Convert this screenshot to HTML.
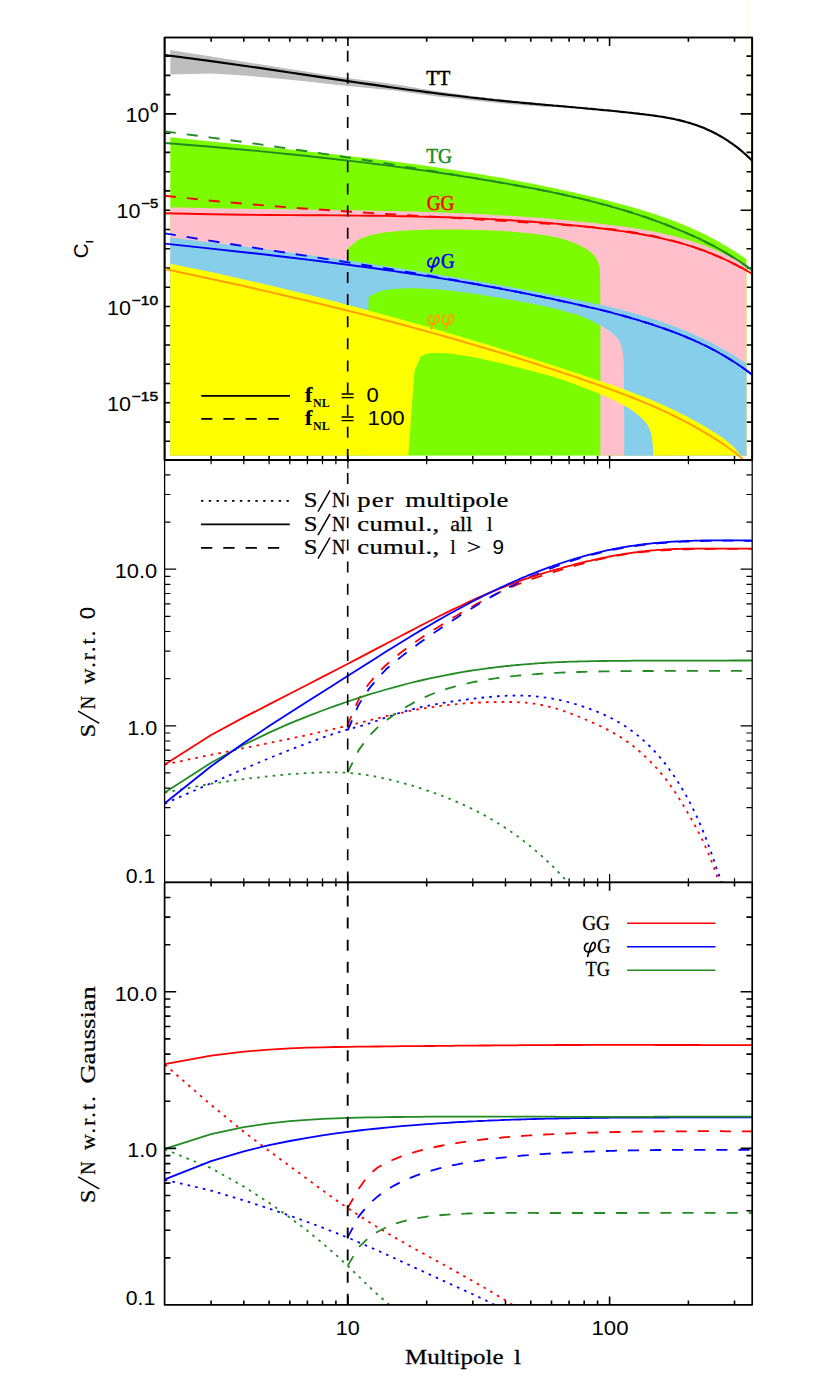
<!DOCTYPE html>
<html><head><meta charset="utf-8"><title>chart</title><style>html,body{margin:0;padding:0;background:#fff}svg text{font-family:"Liberation Serif",serif}svg text.s{font-family:"Liberation Sans",sans-serif}</style></head><body>
<svg width="830" height="1383" viewBox="0 0 830 1383" style="display:block">
<rect width="830" height="1383" fill="#fff"/>
<defs><clipPath id="c1"><rect x="170.3" y="37.5" width="576.1" height="418.3"/></clipPath>
<clipPath id="p1"><rect x="164.6" y="37.5" width="587.6" height="422.5"/></clipPath>
<clipPath id="p2"><rect x="164.6" y="460" width="587.6" height="422.4"/></clipPath>
<clipPath id="p3"><rect x="164.6" y="882.4" width="587.6" height="422.4"/></clipPath>
</defs>
<path d="M211.1 37.5V41.7M243.8 37.5V41.7M269.1 37.5V41.7M289.8 37.5V41.7M307.4 37.5V41.7M322.5 37.5V41.7M335.9 37.5V41.7M426.7 37.5V41.7M472.8 37.5V41.7M505.5 37.5V41.7M530.8 37.5V41.7M551.5 37.5V41.7M569.1 37.5V41.7M584.2 37.5V41.7M597.6 37.5V41.7M688.4 37.5V41.7M734.5 37.5V41.7M347.9 37.5V45.9M609.6 37.5V45.9M211.1 460V455.8M243.8 460V455.8M269.1 460V455.8M289.8 460V455.8M307.4 460V455.8M322.5 460V455.8M335.9 460V455.8M426.7 460V455.8M472.8 460V455.8M505.5 460V455.8M530.8 460V455.8M551.5 460V455.8M569.1 460V455.8M584.2 460V455.8M597.6 460V455.8M688.4 460V455.8M734.5 460V455.8M347.9 460V451.6M609.6 460V451.6M164.6 56.1H170.4M752.2 56.1H746.4M164.6 75.4H170.4M752.2 75.4H746.4M164.6 94.6H170.4M752.2 94.6H746.4M164.6 113.9H176.2M752.2 113.9H740.6M164.6 133.2H170.4M752.2 133.2H746.4M164.6 152.4H170.4M752.2 152.4H746.4M164.6 171.7H170.4M752.2 171.7H746.4M164.6 190.9H170.4M752.2 190.9H746.4M164.6 210.2H176.2M752.2 210.2H740.6M164.6 229.5H170.4M752.2 229.5H746.4M164.6 248.7H170.4M752.2 248.7H746.4M164.6 268H170.4M752.2 268H746.4M164.6 287.2H170.4M752.2 287.2H746.4M164.6 306.5H176.2M752.2 306.5H740.6M164.6 325.8H170.4M752.2 325.8H746.4M164.6 345H170.4M752.2 345H746.4M164.6 364.3H170.4M752.2 364.3H746.4M164.6 383.5H170.4M752.2 383.5H746.4M164.6 402.8H176.2M752.2 402.8H740.6M164.6 422.1H170.4M752.2 422.1H746.4M164.6 441.3H170.4M752.2 441.3H746.4" stroke="#000" stroke-width="1.6" fill="none"/>
<path d="M164.6 37.5H752.2V460H164.6Z" stroke="#000" stroke-width="1.7" fill="none" stroke-linejoin="round"/>
<g clip-path="url(#c1)">
<path d="M169.3 137.2L211.1 141.5L243.8 144.8L269.1 147.4L289.8 149.5L307.4 151.4L322.5 153L335.9 154.5L347.9 155.9L358.7 157.2L368.6 158.3L377.7 159.5L386.1 160.5L394 161.5L401.3 162.5L408.2 163.4L414.7 164.3L420.8 165.1L426.7 166L432.2 166.8L437.5 167.5L442.6 168.3L447.4 169L452 169.7L456.5 170.4L460.8 171.1L464.9 171.7L468.9 172.4L472.8 173L476.5 173.6L480.1 174.2L483.6 174.8L487 175.4L490.3 175.9L493.5 176.5L496.6 177L499.6 177.6L502.6 178.1L505.5 178.6L507.5 179L509.5 179.4L511.5 179.7L513.5 180.1L515.5 180.5L517.6 180.9L519.6 181.3L521.6 181.7L523.6 182L525.6 182.4L527.6 182.8L529.7 183.2L531.7 183.6L533.7 184L535.7 184.4L537.7 184.8L539.7 185.2L541.8 185.6L543.8 186.1L545.8 186.5L547.8 186.9L549.8 187.3L551.8 187.7L553.8 188.2L555.9 188.6L557.9 189L559.9 189.5L561.9 189.9L563.9 190.3L565.9 190.8L568 191.2L570 191.7L572 192.1L574 192.6L576 193.1L578 193.5L580.1 194L582.1 194.5L584.1 194.9L586.1 195.4L588.1 195.9L590.1 196.4L592.2 196.8L594.2 197.3L596.2 197.8L598.2 198.3L600.2 198.8L602.2 199.3L604.3 199.8L606.3 200.3L608.3 200.8L610.3 201.3L612.3 201.9L614.3 202.4L616.3 202.9L618.4 203.4L620.4 204L622.4 204.5L624.4 205.1L626.4 205.6L628.4 206.2L630.5 206.7L632.5 207.3L634.5 207.9L636.5 208.5L638.5 209.1L640.5 209.7L642.6 210.3L644.6 210.9L646.6 211.5L648.6 212.2L650.6 212.8L652.6 213.5L654.7 214.1L656.7 214.8L658.7 215.5L660.7 216.2L662.7 216.9L664.7 217.6L666.8 218.3L668.8 219.1L670.8 219.8L672.8 220.6L674.8 221.3L676.8 222.1L678.9 222.9L680.9 223.7L682.9 224.6L684.9 225.4L686.9 226.3L688.9 227.1L690.9 228L693 228.9L695 229.8L697 230.7L699 231.7L701 232.6L703 233.6L705.1 234.6L707.1 235.6L709.1 236.6L711.1 237.7L713.1 238.8L715.1 239.8L717.2 240.9L719.2 242.1L721.2 243.2L723.2 244.4L725.2 245.5L727.2 246.7L729.3 248L731.3 249.2L733.3 250.5L735.3 251.8L737.3 253.1L739.3 254.4L741.4 255.7L743.4 257.1L745.4 258.5L747.4 259.9L747.4 455.8L169.3 455.8Z" fill="#7CFC00"/>
<path d="M169.3 207.3L211.1 208.2L243.8 208.8L269.1 209.1L289.8 209.3L307.4 209.6L322.5 209.8L335.9 209.9L347.9 210.1L358.7 210.3L368.6 210.5L377.7 210.7L386.1 210.9L394 211L401.3 211.2L408.2 211.4L414.7 211.6L420.8 211.8L426.7 212L432.2 212.1L437.5 212.3L442.6 212.5L447.4 212.7L452 212.9L456.5 213.1L460.8 213.2L464.9 213.4L468.9 213.6L472.8 213.8L476.5 214L480.1 214.1L483.6 214.3L487 214.5L490.3 214.7L493.5 214.9L496.6 215L499.6 215.2L502.6 215.4L505.5 215.6L507.5 215.7L509.5 215.8L511.5 215.9L513.5 216.1L515.5 216.2L517.6 216.3L519.6 216.5L521.6 216.6L523.6 216.8L525.6 216.9L527.6 217L529.7 217.2L531.7 217.3L533.7 217.5L535.7 217.6L537.7 217.8L539.7 218L541.8 218.1L543.8 218.3L545.8 218.4L547.8 218.6L549.8 218.8L551.8 218.9L553.8 219.1L555.9 219.3L557.9 219.5L559.9 219.6L561.9 219.8L563.9 220L565.9 220.2L568 220.4L570 220.6L572 220.8L574 221L576 221.2L578 221.4L580.1 221.6L582.1 221.8L584.1 222L586.1 222.2L588.1 222.4L590.1 222.6L592.2 222.8L594.2 223.1L596.2 223.3L598.2 223.5L600.2 223.7L602.2 224L604.3 224.2L606.3 224.4L608.3 224.7L610.3 224.9L612.3 225.2L614.3 225.4L616.3 225.7L618.4 225.9L620.4 226.2L622.4 226.5L624.4 226.7L626.4 227L628.4 227.3L630.5 227.6L632.5 227.9L634.5 228.2L636.5 228.5L638.5 228.8L640.5 229.2L642.6 229.5L644.6 229.9L646.6 230.2L648.6 230.6L650.6 231L652.6 231.3L654.7 231.7L656.7 232.2L658.7 232.6L660.7 233L662.7 233.4L664.7 233.9L666.8 234.4L668.8 234.8L670.8 235.3L672.8 235.8L674.8 236.3L676.8 236.9L678.9 237.4L680.9 238L682.9 238.5L684.9 239.1L686.9 239.7L688.9 240.3L690.9 241L693 241.6L695 242.3L697 242.9L699 243.6L701 244.4L703 245.1L705.1 245.8L707.1 246.6L709.1 247.4L711.1 248.2L713.1 249L715.1 249.9L717.2 250.7L719.2 251.6L721.2 252.5L723.2 253.4L725.2 254.4L727.2 255.3L729.3 256.3L731.3 257.3L733.3 258.4L735.3 259.4L737.3 260.5L739.3 261.6L741.4 262.7L743.4 263.9L745.4 265L747.4 266.2L747.4 455.8L600.4 455.8L600.4 330L600.4 324.7L600.4 317.2L600.3 308.4L600.3 299.3L600.2 291.2L600.2 285L600.2 280.8L600.1 277.9L600.1 275.8L600 274.2L599.9 272.8L599.8 271.3L599.7 269.8L599.6 268.5L599.5 267.5L599.3 266.5L599.1 265.5L598.8 264.5L598.4 263.4L598 262.2L597.6 261.1L597.1 259.9L596.5 258.8L595.9 257.8L595.2 256.8L594.5 255.9L593.8 255.1L593 254.2L592.1 253.4L591.1 252.5L590 251.6L588.8 250.7L587.6 249.8L586.2 248.9L584.8 248L583.4 247.2L582 246.4L580.5 245.7L579 245L577.4 244.3L575.6 243.5L573.7 242.8L571.6 242L569.4 241.2L567.1 240.3L564.6 239.5L562 238.7L559.3 238L556.4 237.3L553.3 236.7L550 236.1L546.7 235.6L543.3 235.1L540 234.6L536.8 234.2L533.6 233.8L530.5 233.4L527.2 233.1L523.7 232.7L520 232.4L516.1 232L512.2 231.7L508 231.3L503.6 231L498.6 230.7L493 230.4L486.4 230.2L478.7 229.9L470.5 229.8L462.4 229.6L454.9 229.5L448.4 229.4L443.1 229.4L438.7 229.4L434.8 229.5L431.3 229.6L427.7 229.7L424 229.8L419.9 229.9L415.5 230.1L411.1 230.3L407.1 230.5L403.7 230.7L401.3 230.8L394 231.4L386.1 232.3L377.7 233.5L368.6 235.7L358.7 239.5L347.9 248.3L347.3 300L346.8 455.8L169.3 455.8Z" fill="#FFC0CB"/>
<path d="M169.3 237.4L211.1 242.4L243.8 246.5L269.1 249.7L289.8 252.5L307.4 254.8L322.5 256.9L335.9 258.8L347.9 260.5L358.7 262.1L368.6 263.6L377.7 264.9L386.1 266.2L394 267.4L401.3 268.5L408.2 269.6L414.7 270.6L420.8 271.6L426.7 272.6L432.2 273.5L437.5 274.3L442.6 275.2L447.4 276L452 276.8L456.5 277.5L460.8 278.2L464.9 278.9L468.9 279.6L472.8 280.3L476.5 280.9L480.1 281.6L483.6 282.2L487 282.8L490.3 283.4L493.5 283.9L496.6 284.5L499.6 285L502.6 285.6L505.5 286.1L507.5 286.5L509.5 286.8L511.5 287.2L513.5 287.6L515.5 288L517.6 288.3L519.6 288.7L521.6 289.1L523.6 289.5L525.6 289.8L527.6 290.2L529.7 290.6L531.7 291L533.7 291.4L535.7 291.8L537.7 292.1L539.7 292.5L541.8 292.9L543.8 293.3L545.8 293.7L547.8 294.1L549.8 294.5L551.8 294.9L553.8 295.3L555.9 295.7L557.9 296.1L559.9 296.5L561.9 296.9L563.9 297.3L565.9 297.7L568 298.1L570 298.5L572 298.9L574 299.3L576 299.7L578 300.1L580.1 300.5L582.1 300.9L584.1 301.4L586.1 301.8L588.1 302.2L590.1 302.6L592.2 303.1L594.2 303.5L596.2 304L598.2 304.4L600.2 304.8L602.2 305.3L604.3 305.8L606.3 306.2L608.3 306.7L610.3 307.2L612.3 307.6L614.3 308.1L616.3 308.6L618.4 309.1L620.4 309.6L622.4 310.1L624.4 310.7L626.4 311.2L628.4 311.7L630.5 312.3L632.5 312.8L634.5 313.4L636.5 313.9L638.5 314.5L640.5 315.1L642.6 315.7L644.6 316.3L646.6 316.9L648.6 317.5L650.6 318.1L652.6 318.8L654.7 319.4L656.7 320.1L658.7 320.8L660.7 321.5L662.7 322.1L664.7 322.9L666.8 323.6L668.8 324.3L670.8 325L672.8 325.8L674.8 326.6L676.8 327.3L678.9 328.1L680.9 328.9L682.9 329.7L684.9 330.6L686.9 331.4L688.9 332.3L690.9 333.1L693 334L695 334.9L697 335.9L699 336.8L701 337.7L703 338.7L705.1 339.7L707.1 340.7L709.1 341.7L711.1 342.7L713.1 343.7L715.1 344.8L717.2 345.9L719.2 347L721.2 348.1L723.2 349.2L725.2 350.4L727.2 351.5L729.3 352.7L731.3 353.9L733.3 355.1L735.3 356.4L737.3 357.6L739.3 358.9L741.4 360.2L743.4 361.5L745.4 362.9L747.4 364.2L747.4 455.8L624.2 455.8L624.1 400L624.1 396.5L624.1 391.4L624 385.5L624 379.5L623.9 374L623.9 369.9L623.9 367.2L623.8 365.4L623.8 364.2L623.8 363.3L623.7 362.3L623.6 361L623.5 359.4L623.3 357.7L623.2 355.9L623 354.2L622.7 352.5L622.4 350.8L622 349.1L621.6 347.5L621.1 345.8L620.6 344.2L620.1 342.7L619.5 341.4L618.9 340.2L618.3 339.2L617.6 338.3L616.9 337.5L616.1 336.6L615.2 335.7L614.2 334.7L613 333.7L611.8 332.7L610.5 331.8L609.2 330.8L607.9 329.9L606.7 329.1L605.6 328.4L604.5 327.6L603.3 326.9L601.8 326.1L600 325.1L597.7 323.9L595 322.5L592.1 321L589.1 319.5L586.1 318.1L583.4 316.9L581 316L578.9 315.3L576.9 314.6L574.7 314L572.1 313.4L568.9 312.5L565.1 311.5L560.8 310.3L556.2 309.1L551.2 307.8L545.8 306.6L540 305.3L533.6 304L526.4 302.6L518.8 301.3L511.3 299.9L504.2 298.7L497.8 297.6L492.4 296.7L487.5 295.9L483.1 295.1L478.9 294.5L474.6 293.8L470 293.2L465.1 292.5L460.1 291.9L455 291.2L449.9 290.6L444.9 290.1L440 289.6L434.9 289.2L429.6 288.9L424.3 288.7L419.4 288.5L415.3 288.3L412.3 288.2L401.3 288.4L394 288.9L386.1 289.9L377.7 292L368.6 297.1L367.9 330L367.3 455.8L169.3 455.8Z" fill="#87CEEB"/>
<path d="M169.3 263.5L211.1 272.1L243.8 279.4L269.1 285.2L289.8 290.2L307.4 294.5L322.5 298.3L335.9 301.8L347.9 304.9L358.7 307.8L368.6 310.4L377.7 312.9L386.1 315.2L394 317.4L401.3 319.4L408.2 321.4L414.7 323.2L420.8 325L426.7 326.6L432.2 328.2L437.5 329.8L442.6 331.2L447.4 332.7L452 334L456.5 335.4L460.8 336.6L464.9 337.9L468.9 339.1L472.8 340.2L476.5 341.4L480.1 342.5L483.6 343.5L487 344.6L490.3 345.6L493.5 346.6L496.6 347.5L499.6 348.5L502.6 349.4L505.5 350.3L507.5 350.9L509.5 351.5L511.5 352.1L513.5 352.8L515.5 353.4L517.5 354L519.5 354.7L521.5 355.3L523.6 356L525.6 356.6L527.6 357.2L529.6 357.9L531.6 358.5L533.6 359.1L535.6 359.8L537.6 360.4L539.6 361.1L541.7 361.7L543.7 362.4L545.7 363L547.7 363.7L549.7 364.3L551.7 365L553.7 365.6L555.7 366.3L557.7 366.9L559.7 367.6L561.8 368.3L563.8 368.9L565.8 369.6L567.8 370.2L569.8 370.9L571.8 371.6L573.8 372.2L575.8 372.9L577.8 373.6L579.9 374.2L581.9 374.9L583.9 375.6L585.9 376.2L587.9 376.9L589.9 377.6L591.9 378.2L593.9 378.9L595.9 379.6L597.9 380.3L600 381L602 381.6L604 382.3L606 383L608 383.7L610 384.4L612 385.1L614 385.8L616 386.5L618.1 387.2L620.1 387.9L622.1 388.7L624.1 389.4L626.1 390.1L628.1 390.9L630.1 391.6L632.1 392.4L634.1 393.1L636.1 393.9L638.2 394.7L640.2 395.5L642.2 396.2L644.2 397L646.2 397.9L648.2 398.7L650.2 399.5L652.2 400.3L654.2 401.2L656.3 402L658.3 402.9L660.3 403.8L662.3 404.7L664.3 405.6L666.3 406.5L668.3 407.4L670.3 408.3L672.3 409.3L674.4 410.2L676.4 411.2L678.4 412.2L680.4 413.2L682.4 414.2L684.4 415.2L686.4 416.3L688.4 417.3L690.4 418.4L692.4 419.5L694.5 420.6L696.5 421.7L698.5 422.8L700.5 424L702.5 425.2L704.5 426.3L706.5 427.5L708.5 428.8L710.5 430L712.6 431.3L714.6 432.5L716.6 433.8L718.6 435.1L720.6 436.5L722.6 437.8L724.6 439.3L726.6 440.8L728.6 442.4L730.6 444.2L732.7 446.1L734.7 448.1L736.7 450.4L738.7 452.9L740.7 455.6L653.3 455.8L653.2 454.3L653.1 452.2L653 449.7L652.9 447L652.7 444.5L652.5 442.3L652.3 440.4L652.1 438.6L651.8 436.9L651.5 435.3L651.2 433.8L650.7 432.2L650.2 430.7L649.6 429.2L649 427.8L648.3 426.3L647.4 424.9L646.4 423.5L645.3 422.1L644 420.6L642.6 419.2L641.1 417.8L639.5 416.3L637.7 414.8L635.8 413.3L633.9 411.8L631.8 410.3L629.5 408.7L626.9 407.1L624 405.4L620.8 403.7L617.4 401.9L613.6 400.1L609.6 398.2L605 396.2L600 394.1L594.2 391.7L587.6 389.1L580.7 386.4L573.5 383.8L566.5 381.2L560 379L553.8 377L547.8 375.3L541.9 373.7L536.2 372.2L530.7 370.8L525.5 369.4L520.6 368.1L516.1 366.9L511.8 365.9L507.5 364.8L503.3 363.8L499 362.8L494.6 361.8L490.2 360.7L485.8 359.7L481.3 358.8L476.9 357.8L472.5 357L467.8 356.2L462.7 355.4L457.6 354.7L452.9 354.1L448.9 353.6L446 353.2L437.5 352.9L432.2 353.1L426.7 353.8L420.8 356.3L414.5 371L408.3 455.8L169.3 455.8Z" fill="#FFFF00"/>
<path d="M165 49.2L211.1 56.6L243.8 61.7L269.1 65.8L289.8 69L307.4 71.8L322.5 74.2L335.9 76.2L347.9 78.1L358.7 79.5L368.6 80.8L377.7 82L386.1 83.1L394 84.2L401.3 85.3L408.2 86.4L414.7 87.6L420.8 88.7L426.7 89.6L432.2 90.5L437.5 91.2L442.6 91.9L447.4 92.6L452 93.2L456.5 93.8L460.8 94.4L464.9 94.9L468.9 95.4L472.8 95.9L476.5 96.4L480.1 96.9L483.6 97.3L487 97.7L490.3 98.1L493.5 98.5L496.6 98.9L499.6 99.2L502.6 99.5L505.5 99.8L508.3 100.1L511 100.4L513.7 100.7L516.3 100.9L518.8 101.2L521.3 101.4L523.8 101.7L526.2 101.9L528.5 102.1L530.8 102.3L533.1 102.5L535.3 102.7L537.4 102.9L539.6 103.1L541.7 103.3L543.7 103.5L545.7 103.7L547.7 103.9L549.6 104L549.6 107.2L547.7 107L545.7 106.9L543.7 106.7L541.7 106.6L539.6 106.4L537.4 106.2L535.3 106.1L533.1 105.9L530.8 105.7L528.5 105.6L526.2 105.4L523.8 105.2L521.3 105L518.8 104.8L516.3 104.6L513.7 104.4L511 104.2L508.3 103.9L505.5 103.7L502.6 103.4L499.6 103.2L496.6 102.9L493.5 102.6L490.3 102.3L487 101.9L483.6 101.6L480.1 101.2L476.5 100.8L472.8 100.4L468.9 100L464.9 99.5L460.8 99.1L456.5 98.6L452 98.1L447.4 97.6L442.6 97.1L437.5 96.5L432.2 95.8L426.7 95.1L420.8 94.3L414.7 93.4L408.2 92.4L401.3 91.4L394 90.6L386.1 89.7L377.7 88.9L368.6 88L358.7 87.1L347.9 86.1L335.9 84.7L322.5 83.2L307.4 81.5L289.8 79.7L269.1 77.7L243.8 75.5L211.1 73.5L165 74.6Z" fill="#BEBEBE"/>
</g>
<line x1="746.5" y1="0" x2="746.5" y2="456" stroke="#ffff00" stroke-width="1" opacity="0.13"/>
<g clip-path="url(#p1)">
<path d="M164.8 269L211.1 278.9L243.8 286.1L269.1 291.9L289.8 296.7L307.4 300.8L322.5 304.5L335.9 307.7L347.9 310.7L358.7 313.4L368.6 315.9L377.7 318.3L386.1 320.5L394 322.5L401.3 324.5L408.2 326.3L414.7 328.1L420.8 329.8L426.7 331.4L432.2 332.9L437.5 334.4L442.6 335.8L447.4 337.2L452 338.5L456.5 339.8L460.8 341L464.9 342.2L468.9 343.4L472.8 344.5L476.5 345.6L480.1 346.7L483.6 347.7L487 348.7L490.3 349.7L493.5 350.7L496.6 351.6L499.6 352.5L502.6 353.4L505.5 354.3L507.5 354.9L509.5 355.6L511.5 356.2L513.5 356.8L515.5 357.4L517.5 358.1L519.5 358.7L521.5 359.3L523.5 360L525.5 360.6L527.6 361.2L529.6 361.9L531.6 362.5L533.6 363.2L535.6 363.8L537.6 364.5L539.6 365.1L541.6 365.8L543.6 366.4L545.6 367.1L547.6 367.7L549.7 368.4L551.7 369L553.7 369.7L555.7 370.4L557.7 371L559.7 371.7L561.7 372.4L563.7 373.1L565.7 373.7L567.7 374.4L569.7 375.1L571.7 375.8L573.8 376.4L575.8 377.1L577.8 377.8L579.8 378.5L581.8 379.2L583.8 379.9L585.8 380.6L587.8 381.3L589.8 382L591.8 382.7L593.8 383.4L595.9 384.1L597.9 384.8L599.9 385.5L601.9 386.2L603.9 386.9L605.9 387.7L607.9 388.4L609.9 389.1L611.9 389.9L613.9 390.6L615.9 391.3L617.9 392.1L620 392.9L622 393.6L624 394.4L626 395.1L628 395.9L630 396.7L632 397.5L634 398.3L636 399.1L638 399.9L640 400.7L642.1 401.6L644.1 402.4L646.1 403.2L648.1 404.1L650.1 404.9L652.1 405.8L654.1 406.7L656.1 407.6L658.1 408.5L660.1 409.4L662.1 410.3L664.2 411.2L666.2 412.2L668.2 413.1L670.2 414.1L672.2 415L674.2 416L676.2 417L678.2 418L680.2 419L682.2 420.1L684.2 421.1L686.2 422.2L688.3 423.2L690.3 424.3L692.3 425.4L694.3 426.5L696.3 427.6L698.3 428.8L700.3 429.9L702.3 431.1L704.3 432.3L706.3 433.4L708.3 434.7L710.4 435.9L712.4 437.1L714.4 438.4L716.4 439.6L718.4 440.9L720.4 442.2L722.4 443.6L724.4 444.9L726.4 446.3L728.4 447.7L730.4 449.2L732.4 450.7L734.5 452.2L736.5 453.8L738.5 455.5L740.5 457.2L742.5 459L744.5 460.8" fill="none" stroke="#FFA000" stroke-width="2.0" stroke-linejoin="round"/>
<path d="M164.8 243.6L211.1 248.6L243.8 252.2L269.1 255L289.8 257.5L307.4 259.6L322.5 261.5L335.9 263.2L347.9 264.7L358.7 266.2L368.6 267.5L377.7 268.8L386.1 270L394 271.1L401.3 272.2L408.2 273.2L414.7 274.2L420.8 275.1L426.7 276.1L432.2 276.9L437.5 277.8L442.6 278.6L447.4 279.4L452 280.1L456.5 280.9L460.8 281.6L464.9 282.3L468.9 283L472.8 283.7L476.5 284.3L480.1 285L483.6 285.6L487 286.2L490.3 286.8L493.5 287.4L496.6 287.9L499.6 288.5L502.6 289.1L505.5 289.6L507.5 290L509.5 290.4L511.5 290.7L513.5 291.1L515.5 291.5L517.5 291.9L519.5 292.3L521.5 292.7L523.5 293.1L525.5 293.5L527.5 293.9L529.5 294.3L531.5 294.7L533.5 295.1L535.5 295.5L537.6 295.9L539.6 296.3L541.6 296.7L543.6 297.1L545.6 297.6L547.6 298L549.6 298.4L551.6 298.8L553.6 299.2L555.6 299.7L557.6 300.1L559.6 300.5L561.6 301L563.6 301.4L565.6 301.8L567.6 302.3L569.7 302.7L571.7 303.2L573.7 303.6L575.7 304.1L577.7 304.5L579.7 305L581.7 305.4L583.7 305.9L585.7 306.4L587.7 306.8L589.7 307.3L591.7 307.8L593.7 308.2L595.7 308.7L597.7 309.2L599.7 309.7L601.7 310.2L603.8 310.7L605.8 311.2L607.8 311.7L609.8 312.2L611.8 312.7L613.8 313.3L615.8 313.8L617.8 314.3L619.8 314.9L621.8 315.4L623.8 316L625.8 316.5L627.8 317.1L629.8 317.7L631.8 318.3L633.8 318.8L635.9 319.4L637.9 320L639.9 320.6L641.9 321.3L643.9 321.9L645.9 322.5L647.9 323.1L649.9 323.8L651.9 324.4L653.9 325.1L655.9 325.8L657.9 326.5L659.9 327.1L661.9 327.8L663.9 328.5L665.9 329.3L667.9 330L670 330.7L672 331.5L674 332.2L676 333L678 333.7L680 334.5L682 335.3L684 336.1L686 337L688 337.8L690 338.6L692 339.5L694 340.4L696 341.3L698 342.2L700 343.1L702 344.1L704.1 345L706.1 346L708.1 347L710.1 348L712.1 349.1L714.1 350.1L716.1 351.2L718.1 352.3L720.1 353.5L722.1 354.6L724.1 355.8L726.1 357L728.1 358.2L730.1 359.4L732.1 360.7L734.1 362L736.2 363.3L738.2 364.6L740.2 366L742.2 367.4L744.2 368.8L746.2 370.2L748.2 371.7L750.2 373.2L752.2 374.7" fill="none" stroke="#0000FF" stroke-width="1.9" stroke-linejoin="round"/>
<path d="M164.8 233.4L211.1 240.9L243.8 246.1L269.1 250.1L289.8 253.3L307.4 256L322.5 258.4L335.9 260.5L347.9 262.4L358.7 264.1L368.6 265.7L377.7 267.1L386.1 268.5L394 269.8L401.3 271L408.2 272.1L414.7 273.2L420.8 274.3L426.7 275.2L432.2 276.2L437.5 277.1L442.6 278L447.4 278.8L452 279.7L456.5 280.5L460.8 281.2L464.9 282L468.9 282.7L472.8 283.4L476.5 284.1L480.1 284.7L483.6 285.4L487 286L490.3 286.7L493.5 287.3L496.6 287.9L499.6 288.4L502.6 289L505.5 289.6L507.5 289.9L509.5 290.3L511.5 290.7L513.5 291.1L515.5 291.5L517.5 291.9L519.5 292.3L521.5 292.7L523.5 293.1L525.5 293.5L527.5 293.9L529.5 294.3L531.5 294.7L533.5 295.1L535.5 295.6L537.6 296L539.6 296.4L541.6 296.8L543.6 297.2L545.6 297.6L547.6 298.1L549.6 298.5L551.6 298.9L553.6 299.3L555.6 299.8L557.6 300.2L559.6 300.6L561.6 301.1L563.6 301.5L565.6 301.9L567.6 302.4L569.7 302.8L571.7 303.3L573.7 303.7L575.7 304.1L577.7 304.6L579.7 305L581.7 305.5L583.7 306L585.7 306.4L587.7 306.9L589.7 307.4L591.7 307.8L593.7 308.3L595.7 308.8L597.7 309.3L599.7 309.7L601.7 310.2L603.8 310.7L605.8 311.2L607.8 311.7L609.8 312.2L611.8 312.8L613.8 313.3L615.8 313.8L617.8 314.3L619.8 314.9L621.8 315.4L623.8 316L625.8 316.5L627.8 317.1L629.8 317.7L631.8 318.2L633.8 318.8L635.9 319.4L637.9 320L639.9 320.6L641.9 321.2L643.9 321.8L645.9 322.5L647.9 323.1L649.9 323.7L651.9 324.4L653.9 325L655.9 325.7L657.9 326.4L659.9 327.1L661.9 327.8L663.9 328.5L665.9 329.2L667.9 329.9L670 330.7L672 331.4L674 332.2L676 332.9L678 333.7L680 334.5L682 335.3L684 336.1L686 336.9L688 337.8L690 338.6L692 339.5L694 340.4L696 341.3L698 342.2L700 343.1L702 344.1L704.1 345.1L706.1 346L708.1 347L710.1 348.1L712.1 349.1L714.1 350.2L716.1 351.3L718.1 352.4L720.1 353.5L722.1 354.6L724.1 355.8L726.1 357L728.1 358.2L730.1 359.4L732.1 360.7L734.1 362L736.2 363.3L738.2 364.6L740.2 366L742.2 367.4L744.2 368.8L746.2 370.2L748.2 371.7L750.2 373.2L752.2 374.7" fill="none" stroke="#0000FF" stroke-width="1.9" stroke-linejoin="round" stroke-dasharray="11.1 11"/>
<path d="M164.8 213.2L211.1 214.3L243.8 214.8L269.1 215L289.8 215.1L307.4 215.2L322.5 215.3L335.9 215.4L347.9 215.5L358.7 215.6L368.6 215.7L377.7 215.8L386.1 215.9L394 216.1L401.3 216.2L408.2 216.3L414.7 216.5L420.8 216.6L426.7 216.7L432.2 216.9L437.5 217L442.6 217.2L447.4 217.3L452 217.5L456.5 217.7L460.8 217.8L464.9 218L468.9 218.1L472.8 218.3L476.5 218.5L480.1 218.6L483.6 218.8L487 219L490.3 219.1L493.5 219.3L496.6 219.5L499.6 219.6L502.6 219.8L505.5 220L507.5 220.1L509.5 220.2L511.5 220.3L513.5 220.5L515.5 220.6L517.5 220.7L519.5 220.8L521.5 221L523.5 221.1L525.5 221.3L527.5 221.4L529.5 221.5L531.5 221.7L533.5 221.8L535.5 222L537.6 222.1L539.6 222.3L541.6 222.5L543.6 222.6L545.6 222.8L547.6 223L549.6 223.1L551.6 223.3L553.6 223.5L555.6 223.6L557.6 223.8L559.6 224L561.6 224.2L563.6 224.4L565.6 224.6L567.6 224.8L569.7 225L571.7 225.2L573.7 225.4L575.7 225.6L577.7 225.8L579.7 226L581.7 226.2L583.7 226.4L585.7 226.6L587.7 226.9L589.7 227.1L591.7 227.3L593.7 227.5L595.7 227.8L597.7 228L599.7 228.2L601.7 228.5L603.8 228.7L605.8 229L607.8 229.2L609.8 229.5L611.8 229.8L613.8 230L615.8 230.3L617.8 230.6L619.8 230.9L621.8 231.1L623.8 231.4L625.8 231.7L627.8 232L629.8 232.3L631.8 232.7L633.8 233L635.9 233.3L637.9 233.6L639.9 234L641.9 234.3L643.9 234.7L645.9 235.1L647.9 235.5L649.9 235.8L651.9 236.2L653.9 236.7L655.9 237.1L657.9 237.5L659.9 237.9L661.9 238.4L663.9 238.8L665.9 239.3L667.9 239.8L670 240.3L672 240.8L674 241.3L676 241.8L678 242.4L680 242.9L682 243.5L684 244.1L686 244.7L688 245.3L690 245.9L692 246.6L694 247.2L696 247.9L698 248.6L700 249.3L702 250L704.1 250.7L706.1 251.5L708.1 252.3L710.1 253L712.1 253.8L714.1 254.7L716.1 255.5L718.1 256.4L720.1 257.2L722.1 258.1L724.1 259L726.1 260L728.1 260.9L730.1 261.9L732.1 262.9L734.1 263.9L736.2 264.9L738.2 266L740.2 267L742.2 268.1L744.2 269.2L746.2 270.4L748.2 271.5L750.2 272.7L752.2 273.9" fill="none" stroke="#FF0000" stroke-width="1.9" stroke-linejoin="round"/>
<path d="M164.8 195.8L211.1 200.7L243.8 203.7L269.1 205.8L289.8 207.5L307.4 208.7L322.5 209.8L335.9 210.7L347.9 211.5L358.7 212.2L368.6 212.9L377.7 213.4L386.1 214L394 214.4L401.3 214.9L408.2 215.3L414.7 215.7L420.8 216L426.7 216.4L432.2 216.7L437.5 217L442.6 217.3L447.4 217.6L452 217.9L456.5 218.1L460.8 218.4L464.9 218.6L468.9 218.9L472.8 219.1L476.5 219.3L480.1 219.5L483.6 219.8L487 220L490.3 220.2L493.5 220.4L496.6 220.5L499.6 220.7L502.6 220.9L505.5 221.1L507.5 221.2L509.5 221.3L511.5 221.5L513.5 221.6L515.5 221.7L517.5 221.8L519.5 222L521.5 222.1L523.5 222.2L525.5 222.3L527.5 222.5L529.5 222.6L531.5 222.7L533.5 222.9L535.5 223L537.6 223.1L539.6 223.2L541.6 223.4L543.6 223.5L545.6 223.6L547.6 223.8L549.6 223.9L551.6 224L553.6 224.2L555.6 224.3L557.6 224.4L559.6 224.6L561.6 224.7L563.6 224.9L565.6 225L567.6 225.2L569.7 225.3L571.7 225.5L573.7 225.6L575.7 225.8L577.7 225.9L579.7 226.1L581.7 226.2L583.7 226.4L585.7 226.6L587.7 226.8L589.7 227L591.7 227.1L593.7 227.3L595.7 227.5L597.7 227.7L599.7 227.9L601.7 228.1L603.8 228.4L605.8 228.6L607.8 228.8L609.8 229.1L611.8 229.3L613.8 229.5L615.8 229.8L617.8 230.1L619.8 230.3L621.8 230.6L623.8 230.9L625.8 231.2L627.8 231.5L629.8 231.8L631.8 232.1L633.8 232.4L635.9 232.8L637.9 233.1L639.9 233.5L641.9 233.8L643.9 234.2L645.9 234.6L647.9 235L649.9 235.4L651.9 235.8L653.9 236.2L655.9 236.6L657.9 237.1L659.9 237.5L661.9 238L663.9 238.5L665.9 239L667.9 239.5L670 240L672 240.5L674 241.1L676 241.6L678 242.2L680 242.8L682 243.3L684 243.9L686 244.6L688 245.2L690 245.8L692 246.5L694 247.2L696 247.9L698 248.6L700 249.3L702 250L704.1 250.8L706.1 251.5L708.1 252.3L710.1 253.1L712.1 253.9L714.1 254.8L716.1 255.6L718.1 256.5L720.1 257.4L722.1 258.3L724.1 259.2L726.1 260.1L728.1 261.1L730.1 262L732.1 263L734.1 264L736.2 265L738.2 266.1L740.2 267.1L742.2 268.2L744.2 269.3L746.2 270.4L748.2 271.6L750.2 272.7L752.2 273.9" fill="none" stroke="#FF0000" stroke-width="1.9" stroke-linejoin="round" stroke-dasharray="11.1 11"/>
<path d="M164.8 143L211.1 146.8L243.8 149.7L269.1 152.1L289.8 154.2L307.4 156L322.5 157.7L335.9 159.2L347.9 160.6L358.7 161.9L368.6 163.1L377.7 164.3L386.1 165.4L394 166.4L401.3 167.4L408.2 168.3L414.7 169.2L420.8 170.1L426.7 170.9L432.2 171.7L437.5 172.5L442.6 173.3L447.4 174L452 174.7L456.5 175.4L460.8 176L464.9 176.7L468.9 177.3L472.8 177.9L476.5 178.5L480.1 179.1L483.6 179.7L487 180.3L490.3 180.8L493.5 181.3L496.6 181.9L499.6 182.4L502.6 182.9L505.5 183.4L507.5 183.7L509.5 184.1L511.5 184.5L513.5 184.8L515.5 185.2L517.5 185.5L519.5 185.9L521.5 186.3L523.5 186.6L525.5 187L527.5 187.4L529.5 187.8L531.5 188.1L533.5 188.5L535.5 188.9L537.6 189.3L539.6 189.7L541.6 190.1L543.6 190.5L545.6 190.9L547.6 191.3L549.6 191.7L551.6 192.1L553.6 192.6L555.6 193L557.6 193.4L559.6 193.8L561.6 194.3L563.6 194.7L565.6 195.2L567.6 195.6L569.7 196.1L571.7 196.5L573.7 197L575.7 197.5L577.7 197.9L579.7 198.4L581.7 198.9L583.7 199.4L585.7 199.9L587.7 200.4L589.7 200.9L591.7 201.4L593.7 201.9L595.7 202.4L597.7 202.9L599.7 203.5L601.7 204L603.8 204.6L605.8 205.1L607.8 205.7L609.8 206.2L611.8 206.8L613.8 207.4L615.8 207.9L617.8 208.5L619.8 209.1L621.8 209.7L623.8 210.3L625.8 210.9L627.8 211.5L629.8 212.2L631.8 212.8L633.8 213.4L635.9 214.1L637.9 214.7L639.9 215.4L641.9 216.1L643.9 216.8L645.9 217.4L647.9 218.1L649.9 218.8L651.9 219.5L653.9 220.2L655.9 221L657.9 221.7L659.9 222.4L661.9 223.2L663.9 223.9L665.9 224.7L667.9 225.5L670 226.3L672 227L674 227.8L676 228.6L678 229.5L680 230.3L682 231.1L684 232L686 232.8L688 233.7L690 234.6L692 235.4L694 236.3L696 237.3L698 238.2L700 239.1L702 240.1L704.1 241.1L706.1 242.1L708.1 243.1L710.1 244.1L712.1 245.1L714.1 246.2L716.1 247.3L718.1 248.4L720.1 249.5L722.1 250.6L724.1 251.8L726.1 252.9L728.1 254.1L730.1 255.4L732.1 256.6L734.1 257.9L736.2 259.2L738.2 260.5L740.2 261.8L742.2 263.2L744.2 264.6L746.2 266L748.2 267.5L750.2 268.9L752.2 270.4" fill="none" stroke="#228B22" stroke-width="1.9" stroke-linejoin="round"/>
<path d="M164.8 131.4L211.1 137.6L243.8 142.1L269.1 145.7L289.8 148.8L307.4 151.3L322.5 153.6L335.9 155.7L347.9 157.5L358.7 159.2L368.6 160.7L377.7 162.2L386.1 163.5L394 164.8L401.3 165.9L408.2 167.1L414.7 168.1L420.8 169.1L426.7 170.1L432.2 171L437.5 171.9L442.6 172.7L447.4 173.5L452 174.3L456.5 175.1L460.8 175.8L464.9 176.5L468.9 177.2L472.8 177.8L476.5 178.5L480.1 179.1L483.6 179.7L487 180.3L490.3 180.8L493.5 181.4L496.6 181.9L499.6 182.5L502.6 183L505.5 183.5L507.5 183.9L509.5 184.2L511.5 184.6L513.5 184.9L515.5 185.3L517.5 185.7L519.5 186L521.5 186.4L523.5 186.8L525.5 187.1L527.5 187.5L529.5 187.9L531.5 188.3L533.5 188.6L535.5 189L537.6 189.4L539.6 189.8L541.6 190.2L543.6 190.6L545.6 191L547.6 191.4L549.6 191.8L551.6 192.2L553.6 192.6L555.6 193L557.6 193.4L559.6 193.9L561.6 194.3L563.6 194.7L565.6 195.2L567.6 195.6L569.7 196L571.7 196.5L573.7 196.9L575.7 197.4L577.7 197.9L579.7 198.3L581.7 198.8L583.7 199.3L585.7 199.8L587.7 200.2L589.7 200.7L591.7 201.2L593.7 201.7L595.7 202.3L597.7 202.8L599.7 203.3L601.7 203.8L603.8 204.4L605.8 204.9L607.8 205.4L609.8 206L611.8 206.6L613.8 207.1L615.8 207.7L617.8 208.3L619.8 208.9L621.8 209.5L623.8 210.1L625.8 210.7L627.8 211.3L629.8 211.9L631.8 212.5L633.8 213.2L635.9 213.8L637.9 214.5L639.9 215.1L641.9 215.8L643.9 216.5L645.9 217.2L647.9 217.9L649.9 218.6L651.9 219.3L653.9 220L655.9 220.8L657.9 221.5L659.9 222.2L661.9 223L663.9 223.8L665.9 224.5L667.9 225.3L670 226.1L672 226.9L674 227.8L676 228.6L678 229.4L680 230.3L682 231.1L684 232L686 232.9L688 233.8L690 234.7L692 235.6L694 236.5L696 237.4L698 238.4L700 239.3L702 240.3L704.1 241.3L706.1 242.3L708.1 243.3L710.1 244.4L712.1 245.4L714.1 246.5L716.1 247.6L718.1 248.7L720.1 249.8L722.1 250.9L724.1 252.1L726.1 253.2L728.1 254.4L730.1 255.6L732.1 256.9L734.1 258.1L736.2 259.4L738.2 260.6L740.2 261.9L742.2 263.2L744.2 264.6L746.2 265.9L748.2 267.3L750.2 268.7L752.2 270.1" fill="none" stroke="#228B22" stroke-width="1.9" stroke-linejoin="round" stroke-dasharray="11.1 11"/>
<path d="M164.8 55L211.1 61.1L243.8 65.7L269.1 69.4L289.8 72.5L307.4 75.1L322.5 77.4L335.9 79.4L347.9 81.1L358.7 82.7L368.6 84.1L377.7 85.4L386.1 86.6L394 87.7L401.3 88.7L408.2 89.7L414.7 90.5L420.8 91.3L426.7 92.1L432.2 92.8L437.5 93.5L442.6 94.1L447.4 94.7L452 95.3L456.5 95.8L460.8 96.3L464.9 96.8L468.9 97.3L472.8 97.7L476.5 98.1L480.1 98.5L483.6 98.9L487 99.3L490.3 99.6L493.5 100L496.6 100.3L499.6 100.6L502.6 100.9L505.5 101.2L507.5 101.4L509.5 101.6L511.5 101.8L513.5 102L515.5 102.1L517.5 102.3L519.5 102.5L521.5 102.7L523.5 102.9L525.5 103.1L527.5 103.3L529.5 103.4L531.5 103.6L533.5 103.8L535.5 104L537.6 104.2L539.6 104.3L541.6 104.5L543.6 104.7L545.6 104.9L547.6 105L549.6 105.2L551.6 105.4L553.6 105.6L555.6 105.7L557.6 105.9L559.6 106.1L561.6 106.3L563.6 106.4L565.6 106.6L567.6 106.8L569.7 107L571.7 107.1L573.7 107.3L575.7 107.5L577.7 107.7L579.7 107.8L581.7 108L583.7 108.2L585.7 108.4L587.7 108.6L589.7 108.7L591.7 108.9L593.7 109.1L595.7 109.3L597.7 109.5L599.7 109.7L601.7 109.9L603.8 110.1L605.8 110.2L607.8 110.4L609.8 110.6L611.8 110.8L613.8 111L615.8 111.2L617.8 111.4L619.8 111.7L621.8 111.9L623.8 112.1L625.8 112.3L627.8 112.5L629.8 112.7L631.8 112.9L633.8 113.2L635.9 113.4L637.9 113.6L639.9 113.9L641.9 114.1L643.9 114.3L645.9 114.6L647.9 114.8L649.9 115.1L651.9 115.3L653.9 115.6L655.9 115.9L657.9 116.2L659.9 116.5L661.9 116.8L663.9 117.1L665.9 117.5L667.9 117.9L670 118.2L672 118.6L674 119L676 119.5L678 119.9L680 120.4L682 120.9L684 121.4L686 122L688 122.5L690 123.1L692 123.8L694 124.4L696 125.1L698 125.8L700 126.5L702 127.3L704.1 128.1L706.1 129L708.1 129.9L710.1 130.8L712.1 131.7L714.1 132.7L716.1 133.8L718.1 134.9L720.1 136L722.1 137.1L724.1 138.4L726.1 139.6L728.1 140.9L730.1 142.3L732.1 143.7L734.1 145.1L736.2 146.7L738.2 148.2L740.2 149.8L742.2 151.5L744.2 153.3L746.2 155L748.2 156.9L750.2 158.8L752.2 160.8" fill="none" stroke="#000" stroke-width="2.15" stroke-linejoin="round"/>
</g>
<line x1="347.7" y1="460" x2="347.7" y2="37.5" stroke="#000" stroke-width="1.7" stroke-dasharray="11 11.13"/>
<path d="M164.6 37.5H752.2V460H164.6Z" stroke="#000" stroke-width="1.7" fill="none" stroke-linejoin="round"/>
<g clip-path="url(#p2)">
<path d="M164.8 792.6L211.1 783.7L243.8 779.1L269.1 776.2L289.8 774.2L307.4 773L322.5 772.4L335.9 772.3L347.9 772.8L358.7 773.9L368.6 775.3L377.7 777L386.1 778.8L394 780.7L401.3 782.6L408.2 784.5L414.7 786.4L420.8 788.4L426.7 790.3L432.2 792.2L437.5 794.1L442.6 796L447.4 797.9L452 799.8L456.5 801.7L460.8 803.6L464.9 805.5L468.9 807.3L472.8 809.2L476.5 811.1L480.1 812.9L483.6 814.8L487 816.7L490.3 818.6L493.5 820.4L496.6 822.3L499.6 824.2L502.6 826L505.5 827.9L507.5 829.3L509.5 830.6L511.5 832L513.5 833.4L515.5 834.9L517.6 836.3L519.6 837.8L521.6 839.3L523.6 840.9L525.6 842.5L527.6 844.1L529.7 845.7L531.7 847.3L533.7 849L535.7 850.7L537.7 852.5L539.7 854.2L541.8 856.1L543.8 857.9L545.8 859.7L547.8 861.6L549.8 863.6L551.8 865.5L553.9 867.5L555.9 869.5L557.9 871.6L559.9 873.7L561.9 875.8L563.9 878L566 880.2L568 882.4L570 884.7" fill="none" stroke="#228B22" stroke-width="1.8" stroke-linejoin="round" stroke-dasharray="2.6 5.2"/>
<path d="M164.8 764.5L211.1 754.8L243.8 748.2L269.1 743L289.8 738.7L307.4 735L322.5 731.6L335.9 728.5L347.9 725.7L358.7 723L368.6 720.5L377.7 718.3L386.1 716.2L394 714.4L401.3 712.8L408.2 711.3L414.7 710L420.8 708.9L426.7 707.9L432.2 707.1L437.5 706.3L442.6 705.6L447.4 705.1L452 704.6L456.5 704.1L460.8 703.8L464.9 703.4L468.9 703.1L472.8 702.9L476.5 702.7L480.1 702.5L483.6 702.4L487 702.2L490.3 702.1L493.5 702.1L496.6 702L499.6 702L502.6 702L505.5 701.9L507.5 702L509.5 702L511.5 702L513.5 702.1L515.5 702.1L517.5 702.2L519.5 702.3L521.5 702.4L523.5 702.6L525.5 702.7L527.5 702.9L529.5 703.1L531.5 703.4L533.5 703.6L535.5 703.9L537.5 704.2L539.5 704.6L541.5 705L543.5 705.4L545.5 705.8L547.5 706.3L549.5 706.8L551.5 707.3L553.5 707.9L555.5 708.4L557.5 709L559.5 709.7L561.5 710.3L563.5 711L565.5 711.7L567.5 712.4L569.5 713.1L571.5 713.9L573.5 714.6L575.5 715.4L577.5 716.2L579.5 717L581.5 717.8L583.5 718.7L585.5 719.5L587.5 720.4L589.5 721.3L591.5 722.1L593.5 723L595.5 723.9L597.5 724.8L599.5 725.8L601.5 726.7L603.5 727.7L605.5 728.6L607.5 729.6L609.5 730.7L611.5 731.8L613.5 732.9L615.5 734L617.5 735.2L619.5 736.4L621.5 737.7L623.5 739L625.5 740.4L627.5 741.8L629.5 743.3L631.5 744.8L633.5 746.4L635.5 748L637.5 749.7L639.5 751.4L641.5 753.2L643.5 755L645.5 756.8L647.5 758.8L649.5 760.7L651.5 762.8L653.5 764.8L655.5 767L657.5 769.2L659.5 771.5L661.5 773.9L663.5 776.3L665.5 778.8L667.5 781.5L669.5 784.2L671.5 786.9L673.5 789.8L675.5 792.8L677.5 795.9L679.5 799.1L681.5 802.3L683.5 805.6L685.5 809L687.5 812.4L689.5 815.8L691.5 819.3L693.5 822.9L695.5 826.6L697.5 830.3L699.5 834.2L701.5 838.2L703.5 842.4L705.5 846.8L707.5 851.3L709.5 856.1L711.5 861.1L713.5 866.4L715.5 871.9L717.5 877.7L719.5 883.9" fill="none" stroke="#FF0000" stroke-width="1.8" stroke-linejoin="round" stroke-dasharray="2.6 5.2"/>
<path d="M164.8 803.6L211.1 783.2L243.8 768.9L269.1 758.2L289.8 749.9L307.4 743.1L322.5 737.6L335.9 733.1L347.9 729.4L358.7 726.5L368.6 723.6L377.7 720.5L386.1 717.4L394 714.7L401.3 712.4L408.2 710.4L414.7 708.7L420.8 707.2L426.7 706L432.2 704.8L437.5 703.9L442.6 703L447.4 702.2L452 701.5L456.5 700.9L460.8 700.3L464.9 699.7L468.9 699.2L472.8 698.8L476.5 698.3L480.1 697.9L483.6 697.5L487 697.2L490.3 696.9L493.5 696.6L496.6 696.3L499.6 696.1L502.6 696L505.5 695.8L507.5 695.7L509.5 695.6L511.5 695.6L513.5 695.6L515.5 695.5L517.5 695.5L519.5 695.5L521.5 695.6L523.5 695.6L525.5 695.7L527.5 695.8L529.6 695.9L531.6 696L533.6 696.2L535.6 696.4L537.6 696.6L539.6 696.8L541.6 697L543.6 697.3L545.6 697.6L547.6 697.9L549.6 698.2L551.6 698.5L553.6 698.9L555.7 699.3L557.7 699.7L559.7 700.1L561.7 700.5L563.7 701L565.7 701.5L567.7 702L569.7 702.5L571.7 703.1L573.7 703.6L575.7 704.2L577.7 704.8L579.7 705.5L581.8 706.1L583.8 706.8L585.8 707.5L587.8 708.2L589.8 708.9L591.8 709.7L593.8 710.4L595.8 711.2L597.8 712L599.8 712.9L601.8 713.7L603.8 714.6L605.8 715.6L607.9 716.5L609.9 717.5L611.9 718.5L613.9 719.6L615.9 720.7L617.9 721.8L619.9 723L621.9 724.2L623.9 725.4L625.9 726.7L627.9 728.1L629.9 729.5L631.9 730.9L634 732.4L636 734L638 735.6L640 737.3L642 739L644 740.8L646 742.6L648 744.6L650 746.5L652 748.6L654 750.7L656 752.9L658.1 755.2L660.1 757.5L662.1 759.9L664.1 762.4L666.1 765L668.1 767.6L670.1 770.4L672.1 773.2L674.1 776.1L676.1 779.1L678.1 782.2L680.1 785.4L682.1 788.7L684.2 792.1L686.2 795.6L688.2 799.3L690.2 803.1L692.2 807.1L694.2 811.2L696.2 815.4L698.2 819.8L700.2 824.4L702.2 829.2L704.2 834.1L706.2 839.2L708.2 844.5L710.3 850L712.3 855.7L714.3 861.6L716.3 867.7L718.3 873.5L720.3 878.4L722.3 884" fill="none" stroke="#0000FF" stroke-width="1.8" stroke-linejoin="round" stroke-dasharray="2.6 5.2"/>
<path d="M347.8 772.4L358.7 750.1L368.6 736.6L377.7 727.4L386.1 720.5L394 714.8L401.3 709.9L408.2 705.7L414.7 702.1L420.8 699L426.7 696.3L432.2 694L437.5 692L442.6 690.2L447.4 688.7L452 687.3L456.5 686.1L460.8 685L464.9 684L468.9 683.1L472.8 682.2L476.5 681.5L480.1 680.8L483.6 680.2L487 679.6L490.3 679.1L493.5 678.6L496.6 678.2L499.6 677.7L502.6 677.4L505.5 677L507.5 676.8L509.5 676.5L511.5 676.3L513.5 676.1L515.5 675.9L517.5 675.7L519.5 675.5L521.5 675.3L523.5 675.1L525.5 674.9L527.5 674.8L529.5 674.6L531.5 674.4L533.5 674.3L535.5 674.1L537.6 674L539.6 673.9L541.6 673.7L543.6 673.6L545.6 673.5L547.6 673.3L549.6 673.2L551.6 673.1L553.6 673L555.6 672.9L557.6 672.8L559.6 672.7L561.6 672.6L563.6 672.5L565.6 672.5L567.6 672.4L569.7 672.3L571.7 672.2L573.7 672.2L575.7 672.1L577.7 672L579.7 672L581.7 671.9L583.7 671.8L585.7 671.8L587.7 671.7L589.7 671.7L591.7 671.6L593.7 671.6L595.7 671.5L597.7 671.5L599.7 671.5L601.7 671.4L603.8 671.4L605.8 671.4L607.8 671.3L609.8 671.3L611.8 671.3L613.8 671.2L615.8 671.2L617.8 671.2L619.8 671.2L621.8 671.2L623.8 671.1L625.8 671.1L627.8 671.1L629.8 671.1L631.8 671.1L633.8 671.1L635.9 671L637.9 671L639.9 671L641.9 671L643.9 671L645.9 671L647.9 671L649.9 671L651.9 671L653.9 671L655.9 671L657.9 671L659.9 671L661.9 671L663.9 670.9L665.9 670.9L667.9 670.9L670 670.9L672 670.9L674 670.9L676 670.9L678 670.9L680 670.9L682 670.9L684 670.9L686 670.9L688 670.9L690 670.9L692 670.9L694 670.9L696 670.9L698 670.9L700 670.9L702 670.9L704.1 670.9L706.1 670.9L708.1 670.9L710.1 670.9L712.1 670.9L714.1 670.9L716.1 670.9L718.1 670.9L720.1 670.9L722.1 670.9L724.1 670.9L726.1 670.9L728.1 670.9L730.1 670.9L732.1 670.9L734.1 670.9L736.2 670.9L738.2 670.9L740.2 670.9L742.2 670.9L744.2 670.9L746.2 670.9L748.2 670.9L750.2 670.8L752.2 670.8" fill="none" stroke="#228B22" stroke-width="1.8" stroke-linejoin="round" stroke-dasharray="11.1 11"/>
<path d="M347.5 726.3L347.9 724.2L358.7 699.5L368.6 684L377.7 673.3L386.1 665L394 658.1L401.3 652.2L408.2 647.1L414.7 642.4L420.8 638.2L426.7 634.3L432.2 630.7L437.5 627.4L442.6 624.2L447.4 621.2L452 618.3L456.5 615.7L460.8 613.1L464.9 610.7L468.9 608.4L472.8 606.2L476.5 604.1L480.1 602.2L483.6 600.3L487 598.6L490.3 596.9L493.5 595.3L496.6 593.8L499.6 592.3L502.6 590.9L505.5 589.6L507.5 588.7L509.5 587.9L511.5 587L513.5 586.2L515.5 585.3L517.5 584.5L519.5 583.7L521.5 582.9L523.5 582.1L525.5 581.4L527.5 580.6L529.5 579.9L531.5 579.2L533.5 578.5L535.5 577.8L537.6 577.2L539.6 576.5L541.6 575.8L543.6 575.2L545.6 574.5L547.6 573.9L549.6 573.3L551.6 572.7L553.6 572.1L555.6 571.4L557.6 570.8L559.6 570.2L561.6 569.6L563.6 569L565.6 568.4L567.6 567.8L569.7 567.3L571.7 566.7L573.7 566.1L575.7 565.5L577.7 564.9L579.7 564.4L581.7 563.8L583.7 563.3L585.7 562.7L587.7 562.2L589.7 561.7L591.7 561.2L593.7 560.7L595.7 560.2L597.7 559.7L599.7 559.2L601.7 558.8L603.8 558.3L605.8 557.9L607.8 557.4L609.8 557L611.8 556.6L613.8 556.2L615.8 555.9L617.8 555.5L619.8 555.1L621.8 554.8L623.8 554.5L625.8 554.2L627.8 553.9L629.8 553.6L631.8 553.3L633.8 553.1L635.9 552.8L637.9 552.6L639.9 552.3L641.9 552.1L643.9 551.9L645.9 551.7L647.9 551.5L649.9 551.3L651.9 551.2L653.9 551L655.9 550.8L657.9 550.7L659.9 550.6L661.9 550.4L663.9 550.3L665.9 550.2L667.9 550.1L670 550L672 549.9L674 549.8L676 549.7L678 549.6L680 549.5L682 549.5L684 549.4L686 549.3L688 549.3L690 549.2L692 549.2L694 549.2L696 549.1L698 549.1L700 549L702 549L704.1 549L706.1 549L708.1 549L710.1 548.9L712.1 548.9L714.1 548.9L716.1 548.9L718.1 548.9L720.1 548.9L722.1 548.9L724.1 548.9L726.1 548.9L728.1 548.9L730.1 548.9L732.1 548.9L734.1 548.9L736.2 548.9L738.2 548.9L740.2 548.9L742.2 548.9L744.2 548.9L746.2 548.9L748.2 548.9L750.2 548.9L752.2 548.9" fill="none" stroke="#FF0000" stroke-width="1.8" stroke-linejoin="round" stroke-dasharray="11.1 11"/>
<path d="M347.7 730.5L358.7 704.7L368.6 689.4L377.7 678.2L386.1 669.3L394 662.6L401.3 656.6L408.2 651.3L414.7 646.5L420.8 642L426.7 637.9L432.2 634L437.5 630.4L442.6 627L447.4 623.8L452 620.8L456.5 617.9L460.8 615.1L464.9 612.5L468.9 610L472.8 607.7L476.5 605.4L480.1 603.3L483.6 601.2L487 599.2L490.3 597.4L493.5 595.6L496.6 593.9L499.6 592.2L502.6 590.6L505.5 589.1L507.5 588.1L509.5 587L511.5 586L513.5 585L515.5 584L517.5 583L519.5 582.1L521.5 581.1L523.5 580.1L525.5 579.2L527.5 578.3L529.5 577.4L531.5 576.4L533.5 575.6L535.5 574.7L537.6 573.8L539.6 573L541.6 572.1L543.6 571.3L545.6 570.5L547.6 569.6L549.6 568.8L551.6 568.1L553.6 567.3L555.6 566.5L557.6 565.8L559.6 565L561.6 564.3L563.6 563.6L565.6 562.9L567.6 562.2L569.7 561.5L571.7 560.9L573.7 560.2L575.7 559.6L577.7 559L579.7 558.3L581.7 557.7L583.7 557.1L585.7 556.6L587.7 556L589.7 555.4L591.7 554.9L593.7 554.4L595.7 553.8L597.7 553.3L599.7 552.8L601.7 552.4L603.8 551.9L605.8 551.4L607.8 551L609.8 550.5L611.8 550.1L613.8 549.7L615.8 549.3L617.8 548.9L619.8 548.6L621.8 548.2L623.8 547.8L625.8 547.5L627.8 547.2L629.8 546.9L631.8 546.5L633.8 546.3L635.9 546L637.9 545.7L639.9 545.4L641.9 545.2L643.9 544.9L645.9 544.7L647.9 544.4L649.9 544.2L651.9 544L653.9 543.8L655.9 543.6L657.9 543.4L659.9 543.2L661.9 543.1L663.9 542.9L665.9 542.8L667.9 542.6L670 542.5L672 542.3L674 542.2L676 542.1L678 542L680 541.8L682 541.7L684 541.6L686 541.5L688 541.5L690 541.4L692 541.3L694 541.2L696 541.2L698 541.1L700 541L702 541L704.1 540.9L706.1 540.9L708.1 540.9L710.1 540.8L712.1 540.8L714.1 540.8L716.1 540.7L718.1 540.7L720.1 540.7L722.1 540.7L724.1 540.7L726.1 540.7L728.1 540.7L730.1 540.7L732.1 540.7L734.1 540.7L736.2 540.7L738.2 540.7L740.2 540.7L742.2 540.7L744.2 540.7L746.2 540.8L748.2 540.8L750.2 540.8L752.2 540.8" fill="none" stroke="#0000FF" stroke-width="1.8" stroke-linejoin="round" stroke-dasharray="11.1 11"/>
<path d="M164.8 792.6L211.1 762.7L243.8 744.8L269.1 732.6L289.8 723.4L307.4 716.3L322.5 710.5L335.9 705.6L347.9 701.5L358.7 697.9L368.6 694.7L377.7 692L386.1 689.5L394 687.3L401.3 685.3L408.2 683.5L414.7 681.9L420.8 680.5L426.7 679.1L432.2 677.9L437.5 676.8L442.6 675.8L447.4 674.8L452 674L456.5 673.1L460.8 672.4L464.9 671.7L468.9 671L472.8 670.4L476.5 669.9L480.1 669.3L483.6 668.9L487 668.4L490.3 668L493.5 667.6L496.6 667.2L499.6 666.8L502.6 666.5L505.5 666.2L507.5 666L509.5 665.8L511.5 665.5L513.5 665.4L515.5 665.2L517.5 665L519.5 664.8L521.5 664.6L523.5 664.4L525.5 664.3L527.5 664.1L529.5 664L531.5 663.8L533.5 663.7L535.5 663.5L537.6 663.4L539.6 663.2L541.6 663.1L543.6 663L545.6 662.9L547.6 662.7L549.6 662.6L551.6 662.5L553.6 662.4L555.6 662.3L557.6 662.2L559.6 662.1L561.6 662.1L563.6 662L565.6 661.9L567.6 661.8L569.7 661.7L571.7 661.7L573.7 661.6L575.7 661.6L577.7 661.5L579.7 661.4L581.7 661.4L583.7 661.3L585.7 661.3L587.7 661.3L589.7 661.2L591.7 661.2L593.7 661.1L595.7 661.1L597.7 661.1L599.7 661L601.7 661L603.8 661L605.8 661L607.8 660.9L609.8 660.9L611.8 660.9L613.8 660.9L615.8 660.8L617.8 660.8L619.8 660.8L621.8 660.8L623.8 660.8L625.8 660.8L627.8 660.8L629.8 660.8L631.8 660.7L633.8 660.7L635.9 660.7L637.9 660.7L639.9 660.7L641.9 660.7L643.9 660.7L645.9 660.7L647.9 660.7L649.9 660.7L651.9 660.7L653.9 660.7L655.9 660.7L657.9 660.7L659.9 660.7L661.9 660.7L663.9 660.7L665.9 660.7L667.9 660.7L670 660.7L672 660.7L674 660.7L676 660.7L678 660.7L680 660.7L682 660.7L684 660.7L686 660.7L688 660.6L690 660.6L692 660.6L694 660.6L696 660.6L698 660.6L700 660.6L702 660.6L704.1 660.6L706.1 660.6L708.1 660.6L710.1 660.6L712.1 660.6L714.1 660.6L716.1 660.6L718.1 660.6L720.1 660.6L722.1 660.6L724.1 660.6L726.1 660.6L728.1 660.6L730.1 660.5L732.1 660.5L734.1 660.5L736.2 660.5L738.2 660.5L740.2 660.5L742.2 660.5L744.2 660.5L746.2 660.5L748.2 660.5L750.2 660.5L752.2 660.5" fill="none" stroke="#228B22" stroke-width="1.8" stroke-linejoin="round"/>
<path d="M164.8 764.5L211.1 735L243.8 717.4L269.1 704.4L289.8 693.8L307.4 684.8L322.5 676.9L335.9 670L347.9 663.7L358.7 658.1L368.6 652.9L377.7 648.1L386.1 643.7L394 639.5L401.3 635.7L408.2 632.1L414.7 628.7L420.8 625.5L426.7 622.5L432.2 619.7L437.5 617L442.6 614.5L447.4 612.1L452 609.9L456.5 607.7L460.8 605.7L464.9 603.7L468.9 601.9L472.8 600.1L476.5 598.4L480.1 596.8L483.6 595.3L487 593.8L490.3 592.4L493.5 591.1L496.6 589.8L499.6 588.6L502.6 587.4L505.5 586.3L507.5 585.5L509.5 584.7L511.5 584L513.5 583.2L515.5 582.5L517.5 581.8L519.5 581L521.5 580.3L523.5 579.6L525.5 578.9L527.5 578.3L529.5 577.6L531.5 576.9L533.5 576.3L535.5 575.7L537.6 575L539.6 574.4L541.6 573.8L543.6 573.2L545.6 572.6L547.6 572L549.6 571.4L551.6 570.8L553.6 570.2L555.6 569.7L557.6 569.1L559.6 568.5L561.6 568L563.6 567.4L565.6 566.9L567.6 566.3L569.7 565.8L571.7 565.3L573.7 564.7L575.7 564.2L577.7 563.7L579.7 563.2L581.7 562.7L583.7 562.2L585.7 561.7L587.7 561.2L589.7 560.8L591.7 560.3L593.7 559.8L595.7 559.4L597.7 559L599.7 558.5L601.7 558.1L603.8 557.7L605.8 557.3L607.8 556.9L609.8 556.5L611.8 556.1L613.8 555.7L615.8 555.4L617.8 555L619.8 554.7L621.8 554.3L623.8 554L625.8 553.7L627.8 553.4L629.8 553.1L631.8 552.8L633.8 552.5L635.9 552.3L637.9 552L639.9 551.7L641.9 551.5L643.9 551.3L645.9 551L647.9 550.8L649.9 550.6L651.9 550.4L653.9 550.3L655.9 550.1L657.9 549.9L659.9 549.8L661.9 549.7L663.9 549.5L665.9 549.4L667.9 549.3L670 549.2L672 549.1L674 549L676 549L678 548.9L680 548.8L682 548.8L684 548.7L686 548.7L688 548.7L690 548.6L692 548.6L694 548.6L696 548.6L698 548.6L700 548.6L702 548.6L704.1 548.6L706.1 548.6L708.1 548.6L710.1 548.6L712.1 548.6L714.1 548.6L716.1 548.6L718.1 548.6L720.1 548.6L722.1 548.7L724.1 548.7L726.1 548.7L728.1 548.7L730.1 548.7L732.1 548.7L734.1 548.7L736.2 548.7L738.2 548.7L740.2 548.7L742.2 548.7L744.2 548.7L746.2 548.7L748.2 548.6L750.2 548.6L752.2 548.6" fill="none" stroke="#FF0000" stroke-width="1.8" stroke-linejoin="round"/>
<path d="M164.8 803.3L211.1 766.2L243.8 743.1L269.1 726.1L289.8 712.7L307.4 701.5L322.5 691.9L335.9 683.4L347.9 675.8L358.7 669L368.6 662.7L377.7 656.9L386.1 651.6L394 646.7L401.3 642.2L408.2 638L414.7 634L420.8 630.4L426.7 626.9L432.2 623.7L437.5 620.6L442.6 617.8L447.4 615L452 612.5L456.5 610L460.8 607.7L464.9 605.5L468.9 603.4L472.8 601.3L476.5 599.4L480.1 597.6L483.6 595.8L487 594.1L490.3 592.5L493.5 591L496.6 589.5L499.6 588L502.6 586.7L505.5 585.3L507.5 584.4L509.5 583.5L511.5 582.6L513.5 581.7L515.5 580.8L517.5 580L519.5 579.1L521.5 578.2L523.5 577.4L525.5 576.6L527.5 575.7L529.5 574.9L531.5 574.1L533.5 573.3L535.5 572.5L537.6 571.7L539.6 570.9L541.6 570.2L543.6 569.4L545.6 568.6L547.6 567.9L549.6 567.2L551.6 566.5L553.6 565.7L555.6 565L557.6 564.3L559.6 563.7L561.6 563L563.6 562.3L565.6 561.7L567.6 561L569.7 560.4L571.7 559.8L573.7 559.1L575.7 558.5L577.7 557.9L579.7 557.3L581.7 556.8L583.7 556.2L585.7 555.7L587.7 555.1L589.7 554.6L591.7 554L593.7 553.5L595.7 553L597.7 552.5L599.7 552.1L601.7 551.6L603.8 551.1L605.8 550.7L607.8 550.2L609.8 549.8L611.8 549.4L613.8 549L615.8 548.6L617.8 548.2L619.8 547.9L621.8 547.5L623.8 547.1L625.8 546.8L627.8 546.5L629.8 546.2L631.8 545.9L633.8 545.6L635.9 545.3L637.9 545L639.9 544.7L641.9 544.5L643.9 544.2L645.9 544L647.9 543.8L649.9 543.6L651.9 543.4L653.9 543.2L655.9 543L657.9 542.8L659.9 542.6L661.9 542.4L663.9 542.3L665.9 542.1L667.9 542L670 541.9L672 541.7L674 541.6L676 541.5L678 541.4L680 541.3L682 541.2L684 541.1L686 541L688 540.9L690 540.9L692 540.8L694 540.7L696 540.7L698 540.6L700 540.6L702 540.5L704.1 540.5L706.1 540.5L708.1 540.4L710.1 540.4L712.1 540.4L714.1 540.4L716.1 540.4L718.1 540.4L720.1 540.3L722.1 540.3L724.1 540.3L726.1 540.3L728.1 540.3L730.1 540.4L732.1 540.4L734.1 540.4L736.2 540.4L738.2 540.4L740.2 540.4L742.2 540.4L744.2 540.5L746.2 540.5L748.2 540.5L750.2 540.5L752.2 540.5" fill="none" stroke="#0000FF" stroke-width="1.8" stroke-linejoin="round"/>
</g>
<line x1="347.7" y1="882.4" x2="347.7" y2="460" stroke="#000" stroke-width="1.6" stroke-dasharray="11 11.13"/>
<path d="M211.1 460V464.2M243.8 460V464.2M269.1 460V464.2M289.8 460V464.2M307.4 460V464.2M322.5 460V464.2M335.9 460V464.2M426.7 460V464.2M472.8 460V464.2M505.5 460V464.2M530.8 460V464.2M551.5 460V464.2M569.1 460V464.2M584.2 460V464.2M597.6 460V464.2M688.4 460V464.2M734.5 460V464.2M347.9 460V468.4M609.6 460V468.4M211.1 882.4V878.2M243.8 882.4V878.2M269.1 882.4V878.2M289.8 882.4V878.2M307.4 882.4V878.2M322.5 882.4V878.2M335.9 882.4V878.2M426.7 882.4V878.2M472.8 882.4V878.2M505.5 882.4V878.2M530.8 882.4V878.2M551.5 882.4V878.2M569.1 882.4V878.2M584.2 882.4V878.2M597.6 882.4V878.2M688.4 882.4V878.2M734.5 882.4V878.2M347.9 882.4V874M609.6 882.4V874M164.6 835.3H170.4M752.2 835.3H746.4M164.6 807.7H170.4M752.2 807.7H746.4M164.6 788.1H170.4M752.2 788.1H746.4M164.6 772.9H170.4M752.2 772.9H746.4M164.6 760.5H170.4M752.2 760.5H746.4M164.6 750.1H170.4M752.2 750.1H746.4M164.6 741H170.4M752.2 741H746.4M164.6 733H170.4M752.2 733H746.4M164.6 725.8H176.2M752.2 725.8H740.6M164.6 678.7H170.4M752.2 678.7H746.4M164.6 651.1H170.4M752.2 651.1H746.4M164.6 631.5H170.4M752.2 631.5H746.4M164.6 616.3H170.4M752.2 616.3H746.4M164.6 603.9H170.4M752.2 603.9H746.4M164.6 593.5H170.4M752.2 593.5H746.4M164.6 584.4H170.4M752.2 584.4H746.4M164.6 576.4H170.4M752.2 576.4H746.4M164.6 569.2H176.2M752.2 569.2H740.6M164.6 522.1H170.4M752.2 522.1H746.4M164.6 494.5H170.4M752.2 494.5H746.4M164.6 474.9H170.4M752.2 474.9H746.4M164.6 522.1H170.4M752.2 522.1H746.4M164.6 494.5H170.4M752.2 494.5H746.4M164.6 474.9H170.4M752.2 474.9H746.4" stroke="#000" stroke-width="1.2" fill="none"/>
<path d="M164.6 460H752.2V882.4H164.6Z" stroke="#000" stroke-width="1.3" fill="none" stroke-linejoin="round"/>
<g clip-path="url(#p3)">
<path d="M164.8 1149.3L211.1 1168.1L243.8 1186.6L269.1 1202.8L289.8 1217.4L307.4 1230.8L322.5 1243.2L335.9 1254.9L347.9 1266L358.7 1276.5L368.6 1286.1L377.7 1294.6L386.1 1302L388.6 1304L391 1305.9" fill="none" stroke="#228B22" stroke-width="1.8" stroke-linejoin="round" stroke-dasharray="2.6 5.2"/>
<path d="M164.8 1064.5L211.1 1105L243.8 1131.8L269.1 1150.9L289.8 1166.1L307.4 1179.1L322.5 1190.3L335.9 1199.9L347.9 1208.2L358.7 1215.4L368.6 1221.7L377.7 1227.4L386.1 1232.4L394 1237L401.3 1241.2L408.2 1245.2L414.7 1248.8L420.8 1252.2L426.7 1255.5L432.2 1258.5L437.5 1261.4L442.6 1264.2L447.4 1266.9L452 1269.4L456.5 1271.9L460.8 1274.3L464.9 1276.6L468.9 1278.9L472.8 1281.1L476.5 1283.2L480.1 1285.3L483.6 1287.3L487 1289.3L490.3 1291.3L493.5 1293.2L496.6 1295L499.6 1296.9L502.6 1298.7L505.5 1300.5L507.6 1301.8L509.7 1303.2L511.9 1304.5L514 1305.9" fill="none" stroke="#FF0000" stroke-width="1.8" stroke-linejoin="round" stroke-dasharray="2.6 5.2"/>
<path d="M164.8 1179.8L211.1 1190.6L243.8 1200.4L269.1 1208.6L289.8 1215.7L307.4 1222L322.5 1227.6L335.9 1232.9L347.9 1237.7L358.7 1242.3L368.6 1246.6L377.7 1250.6L386.1 1254.4L394 1258L401.3 1261.4L408.2 1264.5L414.7 1267.6L420.8 1270.4L426.7 1273.1L432.2 1275.7L437.5 1278.1L442.6 1280.4L447.4 1282.7L452 1284.8L456.5 1286.8L460.8 1288.8L464.9 1290.6L468.9 1292.5L472.8 1294.3L476.5 1296L480.1 1297.7L483.6 1299.4L487 1301L490.3 1302.6L493.5 1304.2L496.6 1305.7L497 1305.9" fill="none" stroke="#0000FF" stroke-width="1.8" stroke-linejoin="round" stroke-dasharray="2.6 5.2"/>
<path d="M347.7 1265.7L358.7 1247.2L368.6 1237.8L377.7 1231.7L386.1 1227.3L394 1224.1L401.3 1221.8L408.2 1220L414.7 1218.6L420.8 1217.6L426.7 1216.7L432.2 1216L437.5 1215.4L442.6 1215L447.4 1214.6L452 1214.3L456.5 1214L460.8 1213.8L464.9 1213.7L468.9 1213.5L472.8 1213.4L476.5 1213.3L480.1 1213.2L483.6 1213.1L487 1213.1L490.3 1213L493.5 1213L496.6 1213L499.6 1213L502.6 1212.9L505.5 1212.9L507.5 1212.9L509.5 1212.9L511.5 1212.9L513.5 1212.9L515.5 1212.9L517.5 1212.9L519.5 1212.9L521.5 1212.9L523.5 1212.9L525.5 1212.9L527.5 1212.9L529.5 1212.9L531.5 1212.9L533.5 1212.9L535.5 1212.9L537.6 1213L539.6 1213L541.6 1213L543.6 1213L545.6 1213L547.6 1213L549.6 1213L551.6 1213L553.6 1213L555.6 1213L557.6 1213L559.6 1213L561.6 1213L563.6 1213L565.6 1213L567.6 1213L569.7 1213L571.7 1213L573.7 1213L575.7 1213L577.7 1213L579.7 1213L581.7 1213L583.7 1213L585.7 1213L587.7 1213L589.7 1213L591.7 1213L593.7 1213L595.7 1213L597.7 1213L599.7 1213L601.7 1213L603.8 1213L605.8 1213L607.8 1213L609.8 1213L611.8 1213L613.8 1213L615.8 1213L617.8 1213L619.8 1213L621.8 1213L623.8 1213L625.8 1213L627.8 1213L629.8 1213L631.8 1213L633.8 1212.9L635.9 1212.9L637.9 1212.9L639.9 1212.9L641.9 1212.9L643.9 1212.9L645.9 1212.9L647.9 1212.9L649.9 1212.9L651.9 1212.9L653.9 1212.9L655.9 1212.9L657.9 1212.9L659.9 1212.9L661.9 1212.9L663.9 1212.9L665.9 1212.9L667.9 1212.9L670 1212.9L672 1212.9L674 1212.9L676 1212.9L678 1212.9L680 1212.9L682 1212.9L684 1212.8L686 1212.8L688 1212.8L690 1212.8L692 1212.8L694 1212.8L696 1212.8L698 1212.8L700 1212.8L702 1212.8L704.1 1212.8L706.1 1212.8L708.1 1212.8L710.1 1212.8L712.1 1212.8L714.1 1212.8L716.1 1212.8L718.1 1212.8L720.1 1212.9L722.1 1212.9L724.1 1212.9L726.1 1212.9L728.1 1212.9L730.1 1212.9L732.1 1212.9L734.1 1212.9L736.2 1212.9L738.2 1212.9L740.2 1212.9L742.2 1212.9L744.2 1212.9L746.2 1212.9L748.2 1212.9L750.2 1212.9L752.2 1212.9" fill="none" stroke="#228B22" stroke-width="1.8" stroke-linejoin="round" stroke-dasharray="11.1 11"/>
<path d="M347.7 1208L358.7 1188.8L368.6 1175L377.7 1167.5L386.1 1162.9L394 1159.3L401.3 1156.4L408.2 1154L414.7 1152.1L420.8 1150.4L426.7 1148.9L432.2 1147.6L437.5 1146.5L442.6 1145.5L447.4 1144.6L452 1143.8L456.5 1143.1L460.8 1142.4L464.9 1141.8L468.9 1141.2L472.8 1140.7L476.5 1140.3L480.1 1139.8L483.6 1139.4L487 1139L490.3 1138.7L493.5 1138.4L496.6 1138.1L499.6 1137.8L502.6 1137.5L505.5 1137.2L507.5 1137.1L509.5 1136.9L511.5 1136.7L513.5 1136.6L515.5 1136.4L517.5 1136.3L519.5 1136.1L521.5 1136L523.5 1135.8L525.5 1135.7L527.5 1135.6L529.5 1135.4L531.5 1135.3L533.5 1135.2L535.5 1135.1L537.6 1134.9L539.6 1134.8L541.6 1134.7L543.6 1134.6L545.6 1134.5L547.6 1134.4L549.6 1134.3L551.6 1134.2L553.6 1134.1L555.6 1134L557.6 1133.9L559.6 1133.8L561.6 1133.7L563.6 1133.6L565.6 1133.5L567.6 1133.5L569.7 1133.4L571.7 1133.3L573.7 1133.2L575.7 1133.1L577.7 1133.1L579.7 1133L581.7 1132.9L583.7 1132.9L585.7 1132.8L587.7 1132.7L589.7 1132.7L591.7 1132.6L593.7 1132.6L595.7 1132.5L597.7 1132.5L599.7 1132.4L601.7 1132.4L603.8 1132.3L605.8 1132.3L607.8 1132.2L609.8 1132.2L611.8 1132.1L613.8 1132.1L615.8 1132L617.8 1132L619.8 1132L621.8 1131.9L623.8 1131.9L625.8 1131.8L627.8 1131.8L629.8 1131.8L631.8 1131.8L633.8 1131.7L635.9 1131.7L637.9 1131.7L639.9 1131.6L641.9 1131.6L643.9 1131.6L645.9 1131.6L647.9 1131.5L649.9 1131.5L651.9 1131.5L653.9 1131.5L655.9 1131.5L657.9 1131.4L659.9 1131.4L661.9 1131.4L663.9 1131.4L665.9 1131.4L667.9 1131.4L670 1131.4L672 1131.3L674 1131.3L676 1131.3L678 1131.3L680 1131.3L682 1131.3L684 1131.3L686 1131.3L688 1131.3L690 1131.3L692 1131.3L694 1131.3L696 1131.2L698 1131.2L700 1131.2L702 1131.2L704.1 1131.2L706.1 1131.2L708.1 1131.2L710.1 1131.2L712.1 1131.2L714.1 1131.2L716.1 1131.2L718.1 1131.2L720.1 1131.2L722.1 1131.2L724.1 1131.3L726.1 1131.3L728.1 1131.3L730.1 1131.3L732.1 1131.3L734.1 1131.3L736.2 1131.3L738.2 1131.3L740.2 1131.3L742.2 1131.3L744.2 1131.3L746.2 1131.3L748.2 1131.3L750.2 1131.3L752.2 1131.3" fill="none" stroke="#FF0000" stroke-width="1.8" stroke-linejoin="round" stroke-dasharray="11.1 11"/>
<path d="M347.7 1237.4L358.7 1216.3L368.6 1204.6L377.7 1196.4L386.1 1190.3L394 1185.6L401.3 1181.8L408.2 1178.7L414.7 1176.1L420.8 1173.9L426.7 1172L432.2 1170.4L437.5 1168.9L442.6 1167.7L447.4 1166.5L452 1165.5L456.5 1164.6L460.8 1163.7L464.9 1163L468.9 1162.3L472.8 1161.6L476.5 1161.1L480.1 1160.5L483.6 1160L487 1159.5L490.3 1159.1L493.5 1158.7L496.6 1158.3L499.6 1157.9L502.6 1157.6L505.5 1157.3L507.5 1157.1L509.5 1156.9L511.5 1156.7L513.5 1156.5L515.5 1156.3L517.5 1156.1L519.5 1155.9L521.5 1155.7L523.5 1155.5L525.5 1155.3L527.5 1155.2L529.5 1155L531.5 1154.8L533.5 1154.7L535.5 1154.5L537.6 1154.4L539.6 1154.2L541.6 1154.1L543.6 1154L545.6 1153.8L547.6 1153.7L549.6 1153.6L551.6 1153.4L553.6 1153.3L555.6 1153.2L557.6 1153.1L559.6 1153L561.6 1152.8L563.6 1152.7L565.6 1152.6L567.6 1152.5L569.7 1152.4L571.7 1152.3L573.7 1152.2L575.7 1152.1L577.7 1152.1L579.7 1152L581.7 1151.9L583.7 1151.8L585.7 1151.7L587.7 1151.6L589.7 1151.6L591.7 1151.5L593.7 1151.4L595.7 1151.3L597.7 1151.3L599.7 1151.2L601.7 1151.1L603.8 1151.1L605.8 1151L607.8 1151L609.8 1150.9L611.8 1150.8L613.8 1150.8L615.8 1150.7L617.8 1150.7L619.8 1150.6L621.8 1150.6L623.8 1150.6L625.8 1150.5L627.8 1150.5L629.8 1150.4L631.8 1150.4L633.8 1150.4L635.9 1150.3L637.9 1150.3L639.9 1150.2L641.9 1150.2L643.9 1150.2L645.9 1150.2L647.9 1150.1L649.9 1150.1L651.9 1150.1L653.9 1150.1L655.9 1150L657.9 1150L659.9 1150L661.9 1150L663.9 1149.9L665.9 1149.9L667.9 1149.9L670 1149.9L672 1149.9L674 1149.9L676 1149.9L678 1149.8L680 1149.8L682 1149.8L684 1149.8L686 1149.8L688 1149.8L690 1149.8L692 1149.8L694 1149.8L696 1149.8L698 1149.8L700 1149.8L702 1149.8L704.1 1149.8L706.1 1149.8L708.1 1149.8L710.1 1149.8L712.1 1149.8L714.1 1149.8L716.1 1149.8L718.1 1149.8L720.1 1149.8L722.1 1149.8L724.1 1149.8L726.1 1149.8L728.1 1149.8L730.1 1149.8L732.1 1149.9L734.1 1149.9L736.2 1149.9L738.2 1149.9L740.2 1149.9L742.2 1149.9L744.2 1149.9L746.2 1149.9L748.2 1149.9L750.2 1150L752.2 1150" fill="none" stroke="#0000FF" stroke-width="1.8" stroke-linejoin="round" stroke-dasharray="11.1 11"/>
<path d="M164.8 1179.4L211.1 1161.2L243.8 1151.4L269.1 1145.2L289.8 1141L307.4 1137.8L322.5 1135.4L335.9 1133.4L347.9 1131.9L358.7 1130.5L368.6 1129.4L377.7 1128.5L386.1 1127.6L394 1126.9L401.3 1126.2L408.2 1125.6L414.7 1125.1L420.8 1124.6L426.7 1124.2L432.2 1123.8L437.5 1123.4L442.6 1123.1L447.4 1122.8L452 1122.5L456.5 1122.2L460.8 1122L464.9 1121.8L468.9 1121.5L472.8 1121.3L476.5 1121.2L480.1 1121L483.6 1120.8L487 1120.7L490.3 1120.5L493.5 1120.4L496.6 1120.3L499.6 1120.2L502.6 1120L505.5 1119.9L507.5 1119.9L509.5 1119.8L511.5 1119.7L513.5 1119.7L515.5 1119.6L517.5 1119.5L519.5 1119.5L521.5 1119.4L523.5 1119.3L525.5 1119.3L527.5 1119.2L529.5 1119.2L531.5 1119.1L533.5 1119L535.5 1119L537.6 1118.9L539.6 1118.9L541.6 1118.8L543.6 1118.8L545.6 1118.7L547.6 1118.7L549.6 1118.7L551.6 1118.6L553.6 1118.6L555.6 1118.5L557.6 1118.5L559.6 1118.4L561.6 1118.4L563.6 1118.4L565.6 1118.3L567.6 1118.3L569.7 1118.3L571.7 1118.2L573.7 1118.2L575.7 1118.2L577.7 1118.1L579.7 1118.1L581.7 1118.1L583.7 1118L585.7 1118L587.7 1118L589.7 1118L591.7 1117.9L593.7 1117.9L595.7 1117.9L597.7 1117.9L599.7 1117.8L601.7 1117.8L603.8 1117.8L605.8 1117.8L607.8 1117.8L609.8 1117.7L611.8 1117.7L613.8 1117.7L615.8 1117.7L617.8 1117.7L619.8 1117.7L621.8 1117.7L623.8 1117.6L625.8 1117.6L627.8 1117.6L629.8 1117.6L631.8 1117.6L633.8 1117.6L635.9 1117.6L637.9 1117.6L639.9 1117.5L641.9 1117.5L643.9 1117.5L645.9 1117.5L647.9 1117.5L649.9 1117.5L651.9 1117.5L653.9 1117.5L655.9 1117.5L657.9 1117.5L659.9 1117.5L661.9 1117.5L663.9 1117.5L665.9 1117.5L667.9 1117.5L670 1117.4L672 1117.4L674 1117.4L676 1117.4L678 1117.4L680 1117.4L682 1117.4L684 1117.4L686 1117.4L688 1117.4L690 1117.4L692 1117.4L694 1117.4L696 1117.4L698 1117.4L700 1117.4L702 1117.4L704.1 1117.4L706.1 1117.4L708.1 1117.4L710.1 1117.4L712.1 1117.4L714.1 1117.4L716.1 1117.4L718.1 1117.4L720.1 1117.4L722.1 1117.4L724.1 1117.4L726.1 1117.4L728.1 1117.4L730.1 1117.4L732.1 1117.4L734.1 1117.4L736.2 1117.3L738.2 1117.3L740.2 1117.3L742.2 1117.3L744.2 1117.3L746.2 1117.3L748.2 1117.3L750.2 1117.3L752.2 1117.3" fill="none" stroke="#0000FF" stroke-width="1.8" stroke-linejoin="round"/>
<path d="M164.8 1148.8L211.1 1134.1L243.8 1127.2L269.1 1123.4L289.8 1121.2L307.4 1119.8L322.5 1118.9L335.9 1118.3L347.9 1117.9L358.7 1117.6L368.6 1117.4L377.7 1117.3L386.1 1117.1L394 1117L401.3 1117L408.2 1116.9L414.7 1116.8L420.8 1116.8L426.7 1116.7L432.2 1116.7L437.5 1116.7L442.6 1116.7L447.4 1116.6L452 1116.6L456.5 1116.6L460.8 1116.6L464.9 1116.6L468.9 1116.6L472.8 1116.6L476.5 1116.6L480.1 1116.6L483.6 1116.6L487 1116.6L490.3 1116.6L493.5 1116.6L496.6 1116.6L499.6 1116.6L502.6 1116.6L505.5 1116.6L507.5 1116.6L509.5 1116.6L511.5 1116.6L513.5 1116.6L515.5 1116.6L517.5 1116.7L519.5 1116.7L521.5 1116.7L523.5 1116.7L525.5 1116.7L527.5 1116.7L529.5 1116.7L531.5 1116.7L533.5 1116.7L535.5 1116.7L537.6 1116.7L539.6 1116.7L541.6 1116.7L543.6 1116.7L545.6 1116.7L547.6 1116.7L549.6 1116.7L551.6 1116.7L553.6 1116.7L555.6 1116.7L557.6 1116.8L559.6 1116.8L561.6 1116.8L563.6 1116.8L565.6 1116.8L567.6 1116.8L569.7 1116.8L571.7 1116.8L573.7 1116.8L575.7 1116.8L577.7 1116.8L579.7 1116.8L581.7 1116.8L583.7 1116.8L585.7 1116.8L587.7 1116.8L589.7 1116.8L591.7 1116.8L593.7 1116.8L595.7 1116.8L597.7 1116.8L599.7 1116.8L601.7 1116.8L603.8 1116.8L605.8 1116.8L607.8 1116.8L609.8 1116.8L611.8 1116.8L613.8 1116.8L615.8 1116.8L617.8 1116.8L619.8 1116.8L621.8 1116.8L623.8 1116.8L625.8 1116.8L627.8 1116.8L629.8 1116.8L631.8 1116.8L633.8 1116.8L635.9 1116.8L637.9 1116.8L639.9 1116.8L641.9 1116.8L643.9 1116.8L645.9 1116.8L647.9 1116.8L649.9 1116.8L651.9 1116.8L653.9 1116.7L655.9 1116.7L657.9 1116.7L659.9 1116.7L661.9 1116.7L663.9 1116.7L665.9 1116.7L667.9 1116.7L670 1116.7L672 1116.7L674 1116.7L676 1116.7L678 1116.7L680 1116.7L682 1116.7L684 1116.7L686 1116.7L688 1116.7L690 1116.7L692 1116.7L694 1116.7L696 1116.7L698 1116.7L700 1116.7L702 1116.7L704.1 1116.6L706.1 1116.6L708.1 1116.6L710.1 1116.6L712.1 1116.6L714.1 1116.6L716.1 1116.6L718.1 1116.6L720.1 1116.6L722.1 1116.6L724.1 1116.6L726.1 1116.6L728.1 1116.6L730.1 1116.6L732.1 1116.6L734.1 1116.6L736.2 1116.6L738.2 1116.6L740.2 1116.6L742.2 1116.6L744.2 1116.7L746.2 1116.7L748.2 1116.7L750.2 1116.7L752.2 1116.7" fill="none" stroke="#228B22" stroke-width="1.8" stroke-linejoin="round"/>
<path d="M164.8 1064.1L211.1 1055.6L243.8 1051.6L269.1 1049.6L289.8 1048.4L307.4 1047.7L322.5 1047.3L335.9 1047L347.9 1046.8L358.7 1046.7L368.6 1046.6L377.7 1046.5L386.1 1046.4L394 1046.3L401.3 1046.2L408.2 1046.2L414.7 1046.1L420.8 1046.1L426.7 1046L432.2 1046L437.5 1045.9L442.6 1045.9L447.4 1045.8L452 1045.8L456.5 1045.7L460.8 1045.7L464.9 1045.7L468.9 1045.6L472.8 1045.6L476.5 1045.6L480.1 1045.5L483.6 1045.5L487 1045.5L490.3 1045.5L493.5 1045.4L496.6 1045.4L499.6 1045.4L502.6 1045.4L505.5 1045.3L507.5 1045.3L509.5 1045.3L511.5 1045.3L513.5 1045.3L515.5 1045.3L517.5 1045.3L519.5 1045.2L521.5 1045.2L523.5 1045.2L525.5 1045.2L527.5 1045.2L529.5 1045.2L531.5 1045.2L533.5 1045.2L535.5 1045.1L537.6 1045.1L539.6 1045.1L541.6 1045.1L543.6 1045.1L545.6 1045.1L547.6 1045.1L549.6 1045.1L551.6 1045.1L553.6 1045.1L555.6 1045L557.6 1045L559.6 1045L561.6 1045L563.6 1045L565.6 1045L567.6 1045L569.7 1045L571.7 1045L573.7 1045L575.7 1045L577.7 1045L579.7 1045L581.7 1045L583.7 1044.9L585.7 1044.9L587.7 1044.9L589.7 1044.9L591.7 1044.9L593.7 1044.9L595.7 1044.9L597.7 1044.9L599.7 1044.9L601.7 1044.9L603.8 1044.9L605.8 1044.9L607.8 1044.9L609.8 1044.9L611.8 1044.9L613.8 1044.9L615.8 1044.9L617.8 1044.9L619.8 1044.9L621.8 1044.9L623.8 1044.9L625.8 1044.9L627.8 1044.9L629.8 1044.9L631.8 1044.9L633.8 1044.9L635.9 1044.9L637.9 1044.9L639.9 1044.9L641.9 1044.9L643.9 1044.9L645.9 1044.9L647.9 1044.9L649.9 1044.9L651.9 1044.9L653.9 1044.9L655.9 1045L657.9 1045L659.9 1045L661.9 1045L663.9 1045L665.9 1045L667.9 1045L670 1045L672 1045L674 1045L676 1045L678 1045L680 1045L682 1045L684 1045L686 1045L688 1045L690 1045L692 1045L694 1045L696 1045L698 1045L700 1045L702 1045.1L704.1 1045.1L706.1 1045.1L708.1 1045.1L710.1 1045.1L712.1 1045.1L714.1 1045.1L716.1 1045.1L718.1 1045.1L720.1 1045.1L722.1 1045.1L724.1 1045.1L726.1 1045.1L728.1 1045.1L730.1 1045.1L732.1 1045.1L734.1 1045.1L736.2 1045.1L738.2 1045.1L740.2 1045.1L742.2 1045.1L744.2 1045.1L746.2 1045.1L748.2 1045.1L750.2 1045.1L752.2 1045.1" fill="none" stroke="#FF0000" stroke-width="1.8" stroke-linejoin="round"/>
</g>
<line x1="347.7" y1="1304.8" x2="347.7" y2="882.4" stroke="#000" stroke-width="1.9" stroke-dasharray="11 11.13"/>
<path d="M211.1 882.4V886.6M243.8 882.4V886.6M269.1 882.4V886.6M289.8 882.4V886.6M307.4 882.4V886.6M322.5 882.4V886.6M335.9 882.4V886.6M426.7 882.4V886.6M472.8 882.4V886.6M505.5 882.4V886.6M530.8 882.4V886.6M551.5 882.4V886.6M569.1 882.4V886.6M584.2 882.4V886.6M597.6 882.4V886.6M688.4 882.4V886.6M734.5 882.4V886.6M347.9 882.4V890.8M609.6 882.4V890.8M211.1 1304.8V1300.6M243.8 1304.8V1300.6M269.1 1304.8V1300.6M289.8 1304.8V1300.6M307.4 1304.8V1300.6M322.5 1304.8V1300.6M335.9 1304.8V1300.6M426.7 1304.8V1300.6M472.8 1304.8V1300.6M505.5 1304.8V1300.6M530.8 1304.8V1300.6M551.5 1304.8V1300.6M569.1 1304.8V1300.6M584.2 1304.8V1300.6M597.6 1304.8V1300.6M688.4 1304.8V1300.6M734.5 1304.8V1300.6M347.9 1304.8V1296.4M609.6 1304.8V1296.4M164.6 1257.9H170.4M752.2 1257.9H746.4M164.6 1230.3H170.4M752.2 1230.3H746.4M164.6 1210.7H170.4M752.2 1210.7H746.4M164.6 1195.5H170.4M752.2 1195.5H746.4M164.6 1183.1H170.4M752.2 1183.1H746.4M164.6 1172.7H170.4M752.2 1172.7H746.4M164.6 1163.6H170.4M752.2 1163.6H746.4M164.6 1155.6H170.4M752.2 1155.6H746.4M164.6 1148.4H176.2M752.2 1148.4H740.6M164.6 1101.3H170.4M752.2 1101.3H746.4M164.6 1073.7H170.4M752.2 1073.7H746.4M164.6 1054.1H170.4M752.2 1054.1H746.4M164.6 1038.9H170.4M752.2 1038.9H746.4M164.6 1026.5H170.4M752.2 1026.5H746.4M164.6 1016.1H170.4M752.2 1016.1H746.4M164.6 1007H170.4M752.2 1007H746.4M164.6 999H170.4M752.2 999H746.4M164.6 991.8H176.2M752.2 991.8H740.6M164.6 944.7H170.4M752.2 944.7H746.4M164.6 917.1H170.4M752.2 917.1H746.4M164.6 897.5H170.4M752.2 897.5H746.4M164.6 944.7H170.4M752.2 944.7H746.4M164.6 917.1H170.4M752.2 917.1H746.4M164.6 897.5H170.4M752.2 897.5H746.4" stroke="#000" stroke-width="1.6" fill="none"/>
<path d="M164.6 882.4H752.2V1304.8H164.6Z" stroke="#000" stroke-width="1.7" fill="none" stroke-linejoin="round"/>
<text font-size="21.5" fill="#000" stroke="#000" stroke-width="0.5" transform="translate(426.3 85.4) scale(0.918 1)">TT</text>
<text font-size="21.5" fill="#228B22" stroke="#228B22" stroke-width="0.5" transform="translate(426.3 162.5) scale(0.897 1)">TG</text>
<text font-size="21.5" fill="#FF0000" stroke="#FF0000" stroke-width="0.5" transform="translate(426.7 210) scale(0.895 1)">GG</text>
<path transform="translate(427.2 268)" d="M4.2 -9.6C2.2 -9.6 0.8 -7.2 0.8 -4.6C0.8 -2 2.6 -0.9 5 -1C8.6 -1.2 11.6 -4.2 11.6 -7.4C11.6 -9.6 10.6 -10.6 9.4 -10.4C7.8 -10.1 7 -7 6.3 -4.5L4 3.4" fill="none" stroke="#0000FF" stroke-width="1.9" stroke-linecap="round" stroke-linejoin="round"/>
<text font-size="21.5" fill="#0000FF" stroke="#0000FF" stroke-width="0.5" transform="translate(440.9 268) scale(0.876 1)">G</text>
<path transform="translate(427.4 325.4)" d="M4.2 -9.6C2.2 -9.6 0.8 -7.2 0.8 -4.6C0.8 -2 2.6 -0.9 5 -1C8.6 -1.2 11.6 -4.2 11.6 -7.4C11.6 -9.6 10.6 -10.6 9.4 -10.4C7.8 -10.1 7 -7 6.3 -4.5L4 3.4" fill="none" stroke="#FFA000" stroke-width="1.9" stroke-linecap="round" stroke-linejoin="round"/>
<path transform="translate(441.7 325.4)" d="M4.2 -9.6C2.2 -9.6 0.8 -7.2 0.8 -4.6C0.8 -2 2.6 -0.9 5 -1C8.6 -1.2 11.6 -4.2 11.6 -7.4C11.6 -9.6 10.6 -10.6 9.4 -10.4C7.8 -10.1 7 -7 6.3 -4.5L4 3.4" fill="none" stroke="#FFA000" stroke-width="1.9" stroke-linecap="round" stroke-linejoin="round"/>
<path d="M201.2 395.9H290" stroke="#000" stroke-width="1.7"/>
<path d="M201.2 418.8H290" stroke="#000" stroke-width="1.7" stroke-dasharray="11.1 11.1"/>
<text font-size="21.5" fill="#000" font-weight="bold" transform="translate(304.8 402) scale(1.089 1)">f</text>
<text font-size="13.3" fill="#000" font-weight="bold" transform="translate(313.1 407.2) scale(0.898 1)">NL</text>
<path d="M341.6 394H353.6M341.6 397.6H353.6" stroke="#000" stroke-width="1.3"/>
<text font-size="21.5" fill="#000" font-weight="bold" transform="translate(304.8 425) scale(1.089 1)">f</text>
<text font-size="13.3" fill="#000" font-weight="bold" transform="translate(313.1 430.2) scale(0.898 1)">NL</text>
<path d="M341.6 417H353.6M341.6 420.6H353.6" stroke="#000" stroke-width="1.3"/>
<text font-size="19.8" fill="#000" class="s" transform="translate(366.6 402) scale(1.108 1)">0</text>
<text font-size="19.8" fill="#000" class="s" transform="translate(367.6 425.1) scale(1.120 1)">100</text>
<text font-size="13" fill="#000" class="s" stroke="#000" stroke-width="0.45" transform="translate(150.2 111.9) scale(1.106 1)">0</text>
<text font-size="20.5" fill="#000" class="s" transform="translate(125.4 122.1) scale(1.052 1)">10</text>
<text font-size="13" fill="#000" class="s" stroke="#000" stroke-width="0.45" transform="translate(141.2 208.2) scale(1.147 1)">−5</text>
<text font-size="20.5" fill="#000" class="s" transform="translate(116.4 218.4) scale(1.052 1)">10</text>
<text font-size="13" fill="#000" class="s" stroke="#000" stroke-width="0.45" transform="translate(131.7 304.5) scale(1.202 1)">−10</text>
<text font-size="20.5" fill="#000" class="s" transform="translate(106.9 314.7) scale(1.052 1)">10</text>
<text font-size="13" fill="#000" class="s" stroke="#000" stroke-width="0.45" transform="translate(131.7 400.8) scale(1.202 1)">−15</text>
<text font-size="20.5" fill="#000" class="s" transform="translate(106.9 411) scale(1.052 1)">10</text>
<text font-size="20.5" fill="#000" class="s" transform="translate(88 258.3) rotate(-90)">C</text>
<path d="M85.8 241.7H93.4" stroke="#000" stroke-width="1.5"/>
<text font-size="20.5" fill="#000" class="s" transform="translate(114.7 578.1) scale(1.068 1)">10.0</text>
<text font-size="20.5" fill="#000" class="s" transform="translate(127.3 734.7) scale(1.053 1)">1.0</text>
<text font-size="20.5" fill="#000" class="s" transform="translate(125.7 882.7) scale(1.035 1)">0.1</text>
<text font-size="20.5" fill="#000" class="s" transform="translate(114.7 1000.7) scale(1.068 1)">10.0</text>
<text font-size="20.5" fill="#000" class="s" transform="translate(127.3 1157.3) scale(1.053 1)">1.0</text>
<text font-size="20.5" fill="#000" class="s" transform="translate(125.7 1305.3) scale(1.035 1)">0.1</text>
<text font-size="20.5" fill="#000" class="s" transform="translate(335.7 1334.8) scale(1.052 1)">10</text>
<text font-size="20.5" fill="#000" class="s" transform="translate(591.5 1334.8) scale(1.082 1)">100</text>
<text font-size="21.5" fill="#000" stroke="#000" stroke-width="0.25" transform="translate(404.9 1364.2) scale(1.164 1)">Multipole</text>
<text font-size="21.5" fill="#000" stroke="#000" stroke-width="0.25" transform="translate(514 1364.2) scale(1.172 1)">l</text>
<g transform="translate(94.9 736.6) rotate(-90)" font-size="21.5" stroke="#000" stroke-width="0.25"><text transform="translate(-1 0) scale(1.15 1)">S</text><path d="M13.3 4.4L25.4 -16.8" stroke-width="1.5" fill="none"/><text transform="translate(27.4 0) scale(0.86 1)">N</text></g>
<text font-size="21.5" fill="#000" stroke="#000" stroke-width="0.25" textLength="52.5" lengthAdjust="spacing" transform="translate(94.9 684.3) rotate(-90) scale(1.020 1)">w.r.t.</text>
<text font-size="21.5" fill="#000" class="s" transform="translate(94.9 619.2) rotate(-90) scale(1.037 1)">0</text>
<g transform="translate(94.9 1202.2) rotate(-90)" font-size="21.5" stroke="#000" stroke-width="0.25"><text transform="translate(-1 0) scale(1.15 1)">S</text><path d="M13.3 4.4L25.4 -16.8" stroke-width="1.5" fill="none"/><text transform="translate(27.4 0) scale(0.86 1)">N</text></g>
<text font-size="21.5" fill="#000" stroke="#000" stroke-width="0.25" textLength="52.5" lengthAdjust="spacing" transform="translate(94.9 1149.9) rotate(-90) scale(1.020 1)">w.r.t.</text>
<text font-size="21.5" fill="#000" stroke="#000" stroke-width="0.25" transform="translate(94.9 1083.6) rotate(-90) scale(1.237 1)">Gaussian</text>
<path d="M201 500.9H290" stroke="#000" stroke-width="1.7" stroke-dasharray="2.4 5.37"/>
<path d="M201 524.3H289.8" stroke="#000" stroke-width="1.7"/>
<path d="M201 547.8H290" stroke="#000" stroke-width="1.7" stroke-dasharray="11.3 11"/>
<g transform="translate(304.7 507.2)" font-size="21.5" stroke="#000" stroke-width="0.25"><text transform="translate(-1 0) scale(1.15 1)">S</text><path d="M13.3 4.4L25.4 -16.8" stroke-width="1.5" fill="none"/><text transform="translate(27.4 0) scale(0.86 1)">N</text></g>
<g transform="translate(304.7 530.7)" font-size="21.5" stroke="#000" stroke-width="0.25"><text transform="translate(-1 0) scale(1.15 1)">S</text><path d="M13.3 4.4L25.4 -16.8" stroke-width="1.5" fill="none"/><text transform="translate(27.4 0) scale(0.86 1)">N</text></g>
<g transform="translate(304.7 554.3)" font-size="21.5" stroke="#000" stroke-width="0.25"><text transform="translate(-1 0) scale(1.15 1)">S</text><path d="M13.3 4.4L25.4 -16.8" stroke-width="1.5" fill="none"/><text transform="translate(27.4 0) scale(0.86 1)">N</text></g>
<text font-size="21.5" fill="#000" stroke="#000" stroke-width="0.25" textLength="29.1" lengthAdjust="spacing" transform="translate(357.3 507.2) scale(1.240 1)">per</text>
<text font-size="21.5" fill="#000" stroke="#000" stroke-width="0.25" textLength="83.1" lengthAdjust="spacing" transform="translate(405.3 507.2) scale(1.240 1)">multipole</text>
<text font-size="21.5" fill="#000" stroke="#000" stroke-width="0.25" textLength="66" lengthAdjust="spacing" transform="translate(357.3 530.7) scale(1.240 1)">cumul.,</text>
<text font-size="21.5" fill="#000" stroke="#000" stroke-width="0.25" transform="translate(450.2 530.7) scale(1.028 1)">all</text>
<text font-size="21.5" fill="#000" stroke="#000" stroke-width="0.25" transform="translate(487 530.7) scale(0.921 1)">l</text>
<text font-size="21.5" fill="#000" stroke="#000" stroke-width="0.25" textLength="66" lengthAdjust="spacing" transform="translate(357.3 554.3) scale(1.240 1)">cumul.,</text>
<text font-size="21.5" fill="#000" stroke="#000" stroke-width="0.25" transform="translate(450.2 554.3) scale(0.921 1)">l</text>
<text font-size="21.5" fill="#000" stroke="#000" stroke-width="0.25" transform="translate(466.8 554.3) scale(1.188 1)">&gt;</text>
<text font-size="19.8" fill="#000" class="s" transform="translate(492.6 554.3) scale(1.044 1)">9</text>
<text font-size="21.5" fill="#000" stroke="#000" stroke-width="0.25" transform="translate(582.2 929.5) scale(0.892 1)">GG</text>
<path transform="translate(583.7 952.9)" d="M4.2 -9.6C2.2 -9.6 0.8 -7.2 0.8 -4.6C0.8 -2 2.6 -0.9 5 -1C8.6 -1.2 11.6 -4.2 11.6 -7.4C11.6 -9.6 10.6 -10.6 9.4 -10.4C7.8 -10.1 7 -7 6.3 -4.5L4 3.4" fill="none" stroke="#000" stroke-width="1.7" stroke-linecap="round" stroke-linejoin="round"/>
<text font-size="21.5" fill="#000" stroke="#000" stroke-width="0.25" transform="translate(596.9 952.9) scale(0.876 1)">G</text>
<text font-size="21.5" fill="#000" stroke="#000" stroke-width="0.25" transform="translate(585.4 976.3) scale(0.855 1)">TG</text>
<path d="M627.1 923.2H715.5" stroke="#FF0000" stroke-width="1.6"/>
<path d="M627.1 946.8H715.5" stroke="#0000FF" stroke-width="1.6"/>
<path d="M627.1 970.2H715.5" stroke="#228B22" stroke-width="1.6"/>
</svg>
</body></html>
